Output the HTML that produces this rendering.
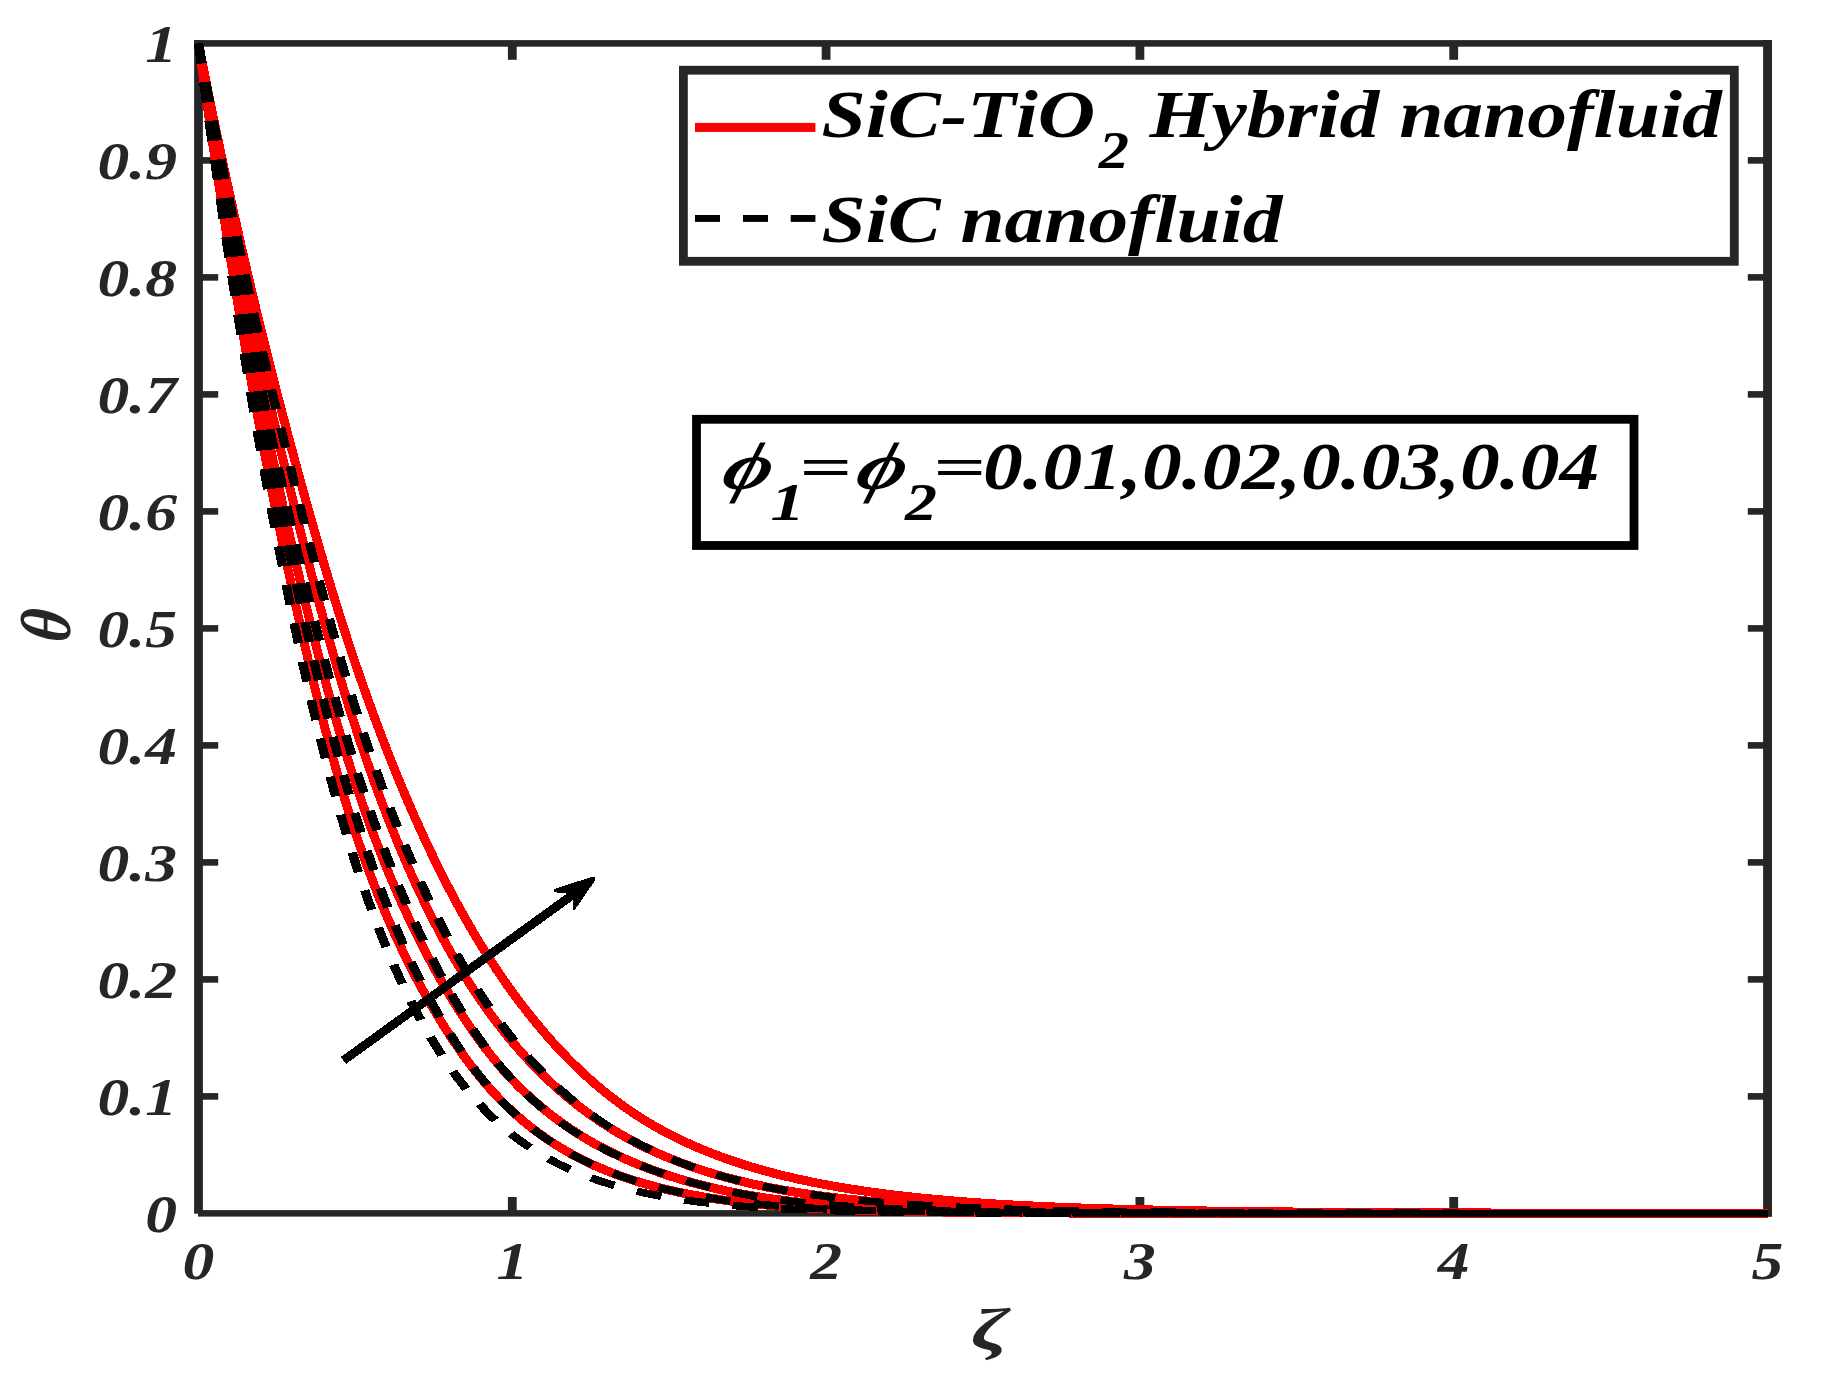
<!DOCTYPE html><html><head><meta charset="utf-8"><title>theta profile</title>
<style>html,body{margin:0;padding:0;background:#fff;overflow:hidden}svg{display:block}text{font-family:"Liberation Serif",serif;font-weight:bold;font-style:italic;font-kerning:none}</style></head><body>
<svg width="1822" height="1377" viewBox="0 0 1822 1377">
<rect width="1822" height="1377" fill="#fff"/>
<g fill="#262626">
<rect x="194.1" y="40.1" width="8.8" height="1173.6"/>
<rect x="194.1" y="40.1" width="1577.9" height="6.6"/>
<rect x="1763.1" y="40.1" width="8.9" height="1176.5"/>
<rect x="198" y="1210.1" width="1574" height="6.5"/>
<rect x="198.5" y="157.10" width="19.7" height="6.6"/>
<rect x="1747.8" y="157.10" width="19.7" height="6.6"/>
<rect x="198.5" y="274.10" width="19.7" height="6.6"/>
<rect x="1747.8" y="274.10" width="19.7" height="6.6"/>
<rect x="198.5" y="391.10" width="19.7" height="6.6"/>
<rect x="1747.8" y="391.10" width="19.7" height="6.6"/>
<rect x="198.5" y="508.10" width="19.7" height="6.6"/>
<rect x="1747.8" y="508.10" width="19.7" height="6.6"/>
<rect x="198.5" y="625.10" width="19.7" height="6.6"/>
<rect x="1747.8" y="625.10" width="19.7" height="6.6"/>
<rect x="198.5" y="742.10" width="19.7" height="6.6"/>
<rect x="1747.8" y="742.10" width="19.7" height="6.6"/>
<rect x="198.5" y="859.10" width="19.7" height="6.6"/>
<rect x="1747.8" y="859.10" width="19.7" height="6.6"/>
<rect x="198.5" y="976.10" width="19.7" height="6.6"/>
<rect x="1747.8" y="976.10" width="19.7" height="6.6"/>
<rect x="198.5" y="1093.10" width="19.7" height="6.6"/>
<rect x="1747.8" y="1093.10" width="19.7" height="6.6"/>
<rect x="507.90" y="1197" width="8.8" height="16.4"/>
<rect x="507.90" y="43.4" width="8.8" height="16.4"/>
<rect x="821.70" y="1197" width="8.8" height="16.4"/>
<rect x="821.70" y="43.4" width="8.8" height="16.4"/>
<rect x="1135.50" y="1197" width="8.8" height="16.4"/>
<rect x="1135.50" y="43.4" width="8.8" height="16.4"/>
<rect x="1449.30" y="1197" width="8.8" height="16.4"/>
<rect x="1449.30" y="43.4" width="8.8" height="16.4"/>
</g>
<text font-size="52.6" fill="#262626" transform="translate(145.18,61.70) scale(1.2100,1)">1</text>
<text font-size="52.6" fill="#262626" transform="translate(97.44,178.70) scale(1.2100,1)">0.9</text>
<text font-size="52.6" fill="#262626" transform="translate(97.44,295.70) scale(1.2100,1)">0.8</text>
<text font-size="52.6" fill="#262626" transform="translate(97.44,412.70) scale(1.2100,1)">0.7</text>
<text font-size="52.6" fill="#262626" transform="translate(97.44,529.70) scale(1.2100,1)">0.6</text>
<text font-size="52.6" fill="#262626" transform="translate(97.44,646.70) scale(1.2100,1)">0.5</text>
<text font-size="52.6" fill="#262626" transform="translate(97.44,763.70) scale(1.2100,1)">0.4</text>
<text font-size="52.6" fill="#262626" transform="translate(97.44,880.70) scale(1.2100,1)">0.3</text>
<text font-size="52.6" fill="#262626" transform="translate(97.44,997.70) scale(1.2100,1)">0.2</text>
<text font-size="52.6" fill="#262626" transform="translate(97.44,1114.70) scale(1.2100,1)">0.1</text>
<text font-size="52.6" fill="#262626" transform="translate(145.18,1231.70) scale(1.2100,1)">0</text>
<text font-size="52.6" fill="#262626" transform="translate(182.59,1279.40) scale(1.2100,1)">0</text>
<text font-size="52.6" fill="#262626" transform="translate(496.39,1279.40) scale(1.2100,1)">1</text>
<text font-size="52.6" fill="#262626" transform="translate(810.19,1279.40) scale(1.2100,1)">2</text>
<text font-size="52.6" fill="#262626" transform="translate(1123.99,1279.40) scale(1.2100,1)">3</text>
<text font-size="52.6" fill="#262626" transform="translate(1437.79,1279.40) scale(1.2100,1)">4</text>
<text font-size="52.6" fill="#262626" transform="translate(1751.59,1279.40) scale(1.2100,1)">5</text>
<text font-size="59" fill="#262626" text-anchor="middle" transform="translate(70.2,627.8) scale(1.2,1) rotate(-90) skewX(-7) scale(1.05,1)">θ</text>
<text font-size="59" fill="#262626" transform="translate(971.09,1349.00) scale(1.4400,1)">ζ</text>
<g fill="none" stroke="#ff0000" stroke-width="9" shape-rendering="crispEdges">
<path d="M198.50 43.40 L200.07 54.76 L201.64 66.04 L203.21 77.22 L204.78 88.32 L206.34 99.34 L207.91 110.26 L209.48 121.11 L211.05 131.87 L212.62 142.54 L214.19 153.14 L215.76 163.65 L217.33 174.08 L218.90 184.44 L220.47 194.71 L222.03 204.90 L223.60 215.02 L225.17 225.05 L226.74 235.02 L228.31 244.90 L229.88 254.71 L231.45 264.44 L233.02 274.10 L234.59 283.68 L236.16 293.19 L237.72 302.63 L239.29 312.00 L240.86 321.29 L242.43 330.51 L244.00 339.66 L245.57 348.74 L247.14 357.75 L248.71 366.69 L250.28 375.55 L251.85 384.35 L253.42 393.09 L254.98 401.75 L256.55 410.34 L258.12 418.87 L259.69 427.33 L261.26 435.73 L262.83 444.05 L264.40 452.31 L265.97 460.51 L267.54 468.64 L269.11 476.71 L270.67 484.71 L272.24 492.64 L273.81 500.52 L275.38 508.32 L276.95 516.07 L278.52 523.76 L280.09 531.40 L281.66 539.00 L283.23 546.54 L284.80 554.04 L286.36 561.49 L287.93 568.88 L289.50 576.23 L291.07 583.53 L292.64 590.78 L294.21 597.98 L295.78 605.13 L297.35 612.23 L298.92 619.27 L300.49 626.26 L302.05 633.20 L303.62 640.08 L305.19 646.91 L306.76 653.68 L308.33 660.39 L309.90 667.05 L311.47 673.66 L313.04 680.20 L314.61 686.68 L316.18 693.11 L317.74 699.48 L319.31 705.78 L320.88 712.02 L322.45 718.20 L324.02 724.32 L325.59 730.38 L327.16 736.37 L328.73 742.29 L330.30 748.15 L331.87 753.95 L333.43 759.68 L335.00 765.34 L336.57 770.93 L338.14 776.46 L339.71 781.91 L341.28 787.30 L342.85 792.62 L344.42 797.87 L345.99 803.04 L347.56 808.15 L349.12 813.18 L350.69 818.15 L352.26 823.04 L353.83 827.86 L355.40 832.61 L356.97 837.29 L358.54 841.91 L360.11 846.47 L361.68 850.97 L363.25 855.42 L364.81 859.81 L366.38 864.15 L367.95 868.43 L369.52 872.66 L371.09 876.84 L372.66 880.96 L374.23 885.04 L375.80 889.06 L377.37 893.04 L378.94 896.96 L380.50 900.84 L382.07 904.67 L383.64 908.46 L385.21 912.20 L386.78 915.89 L388.35 919.54 L389.92 923.15 L391.49 926.72 L393.06 930.24 L394.62 933.73 L396.19 937.17 L397.76 940.57 L399.33 943.94 L400.90 947.27 L402.47 950.56 L404.04 953.82 L405.61 957.03 L407.18 960.22 L408.75 963.37 L410.32 966.48 L411.88 969.57 L413.45 972.62 L415.02 975.63 L416.59 978.62 L418.16 981.58 L419.73 984.50 L421.30 987.40 L422.87 990.27 L424.44 993.11 L426.00 995.92 L427.57 998.70 L429.14 1001.46 L430.71 1004.19 L432.28 1006.90 L433.85 1009.58 L435.42 1012.23 L436.99 1014.86 L438.56 1017.46 L440.13 1020.04 L441.70 1022.59 L443.26 1025.11 L444.83 1027.61 L446.40 1030.09 L447.97 1032.53 L449.54 1034.96 L451.11 1037.35 L452.68 1039.72 L454.25 1042.07 L455.82 1044.38 L457.39 1046.68 L458.95 1048.94 L460.52 1051.19 L462.09 1053.40 L463.66 1055.59 L465.23 1057.76 L466.80 1059.90 L468.37 1062.02 L469.94 1064.11 L471.51 1066.17 L473.07 1068.21 L474.64 1070.23 L476.21 1072.22 L477.78 1074.18 L479.35 1076.12 L480.92 1078.04 L482.49 1079.93 L484.06 1081.80 L485.63 1083.65 L487.20 1085.47 L488.77 1087.26 L490.33 1089.03 L491.90 1090.78 L493.47 1092.51 L495.04 1094.21 L496.61 1095.89 L498.18 1097.54 L499.75 1099.18 L501.32 1100.78 L502.89 1102.37 L504.45 1103.94 L506.02 1105.48 L507.59 1107.00 L509.16 1108.49 L510.73 1109.97 L512.30 1111.42 L513.87 1112.85 L515.44 1114.27 L517.01 1115.66 L518.58 1117.04 L520.14 1118.40 L521.71 1119.74 L523.28 1121.06 L524.85 1122.36 L526.42 1123.65 L527.99 1124.92 L529.56 1126.17 L531.13 1127.40 L532.70 1128.62 L534.27 1129.82 L535.84 1131.01 L537.40 1132.18 L538.97 1133.33 L540.54 1134.47 L542.11 1135.59 L543.68 1136.70 L545.25 1137.79 L546.82 1138.87 L548.39 1139.93 L549.96 1140.98 L551.53 1142.02 L553.09 1143.04 L554.66 1144.04 L556.23 1145.04 L557.80 1146.02 L559.37 1146.98 L560.94 1147.94 L562.51 1148.88 L564.08 1149.80 L565.65 1150.72 L567.22 1151.62 L568.78 1152.51 L570.35 1153.39 L571.92 1154.25 L573.49 1155.11 L575.06 1155.95 L576.63 1156.78 L578.20 1157.60 L579.77 1158.41 L581.34 1159.21 L582.90 1159.99 L584.47 1160.77 L586.04 1161.53 L587.61 1162.29 L589.18 1163.03 L590.75 1163.77 L592.32 1164.49 L593.89 1165.20 L595.46 1165.91 L597.03 1166.60 L598.60 1167.29 L600.16 1167.96 L601.73 1168.63 L603.30 1169.29 L604.87 1169.94 L606.44 1170.58 L608.01 1171.21 L609.58 1171.83 L611.15 1172.44 L612.72 1173.05 L614.29 1173.64 L615.85 1174.23 L617.42 1174.81 L618.99 1175.39 L620.56 1175.95 L622.13 1176.51 L623.70 1177.06 L625.27 1177.60 L626.84 1178.13 L628.41 1178.66 L629.98 1179.18 L631.54 1179.69 L633.11 1180.20 L634.68 1180.69 L636.25 1181.19 L637.82 1181.67 L639.39 1182.15 L640.96 1182.62 L642.53 1183.08 L644.10 1183.54 L645.66 1183.99 L647.23 1184.44 L648.80 1184.88 L650.37 1185.31 L651.94 1185.74 L653.51 1186.16 L655.08 1186.58 L656.65 1186.99 L658.22 1187.39 L659.79 1187.79 L661.36 1188.18 L662.92 1188.57 L664.49 1188.95 L666.06 1189.33 L667.63 1189.70 L669.20 1190.07 L670.77 1190.43 L672.34 1190.79 L673.91 1191.14 L675.48 1191.49 L677.05 1191.83 L678.61 1192.17 L680.18 1192.50 L681.75 1192.83 L683.32 1193.16 L684.89 1193.48 L686.46 1193.79 L688.03 1194.11 L689.60 1194.41 L691.17 1194.72 L692.74 1195.01 L694.30 1195.31 L695.87 1195.60 L697.44 1195.89 L699.01 1196.17 L700.58 1196.45 L702.15 1196.72 L703.72 1196.99 L705.29 1197.26 L706.86 1197.52 L708.42 1197.78 L709.99 1198.03 L711.56 1198.28 L713.13 1198.53 L714.70 1198.78 L716.27 1199.02 L717.84 1199.25 L719.41 1199.48 L720.98 1199.71 L722.55 1199.94 L724.12 1200.16 L725.68 1200.38 L727.25 1200.60 L728.82 1200.81 L730.39 1201.02 L731.96 1201.22 L733.53 1201.42 L735.10 1201.62 L736.67 1201.82 L738.24 1202.01 L739.81 1202.20 L741.37 1202.39 L742.94 1202.57 L744.51 1202.75 L746.08 1202.93 L747.65 1203.10 L749.22 1203.28 L750.79 1203.44 L752.36 1203.61 L753.93 1203.77 L755.50 1203.93 L757.06 1204.09 L758.63 1204.25 L760.20 1204.40 L761.77 1204.55 L763.34 1204.70 L764.91 1204.84 L766.48 1204.99 L768.05 1205.13 L769.62 1205.27 L771.19 1205.40 L772.75 1205.53 L774.32 1205.67 L775.89 1205.79 L777.46 1205.92 L779.03 1206.05 L780.60 1206.17 L782.17 1206.29 L783.74 1206.41 L785.31 1206.52 L786.88 1206.63 L788.44 1206.75 L790.01 1206.86 L791.58 1206.96 L793.15 1207.07 L794.72 1207.17 L796.29 1207.28 L797.86 1207.38 L799.43 1207.47 L801.00 1207.57 L802.57 1207.67 L804.13 1207.76 L805.70 1207.85 L807.27 1207.94 L808.84 1208.03 L810.41 1208.12 L811.98 1208.20 L813.55 1208.28 L815.12 1208.37 L816.69 1208.45 L818.25 1208.52 L819.82 1208.60 L821.39 1208.68 L822.96 1208.75 L824.53 1208.83 L826.10 1208.90 L827.67 1208.97 L829.24 1209.04 L830.81 1209.11 L832.38 1209.17 L833.95 1209.24 L835.51 1209.30 L837.08 1209.37 L838.65 1209.43 L840.22 1209.49 L841.79 1209.55 L843.36 1209.61 L844.93 1209.67 L846.50 1209.73 L848.07 1209.79 L849.64 1209.85 L851.20 1209.90 L852.77 1209.96 L854.34 1210.01 L855.91 1210.06 L857.48 1210.12 L859.05 1210.17 L860.62 1210.22 L862.19 1210.27 L863.76 1210.32 L865.33 1210.36 L866.89 1210.41 L868.46 1210.46 L870.03 1210.50 L871.60 1210.55 L873.17 1210.59 L874.74 1210.64 L876.31 1210.68 L877.88 1210.72 L879.45 1210.77 L881.02 1210.81 L882.58 1210.85 L884.15 1210.89 L885.72 1210.93 L887.29 1210.97 L888.86 1211.00 L890.43 1211.04 L892.00 1211.08 L893.57 1211.11 L895.14 1211.15 L896.71 1211.19 L898.27 1211.22 L899.84 1211.25 L901.41 1211.29 L902.98 1211.32 L904.55 1211.35 L906.12 1211.39 L907.69 1211.42 L909.26 1211.45 L910.83 1211.48 L912.39 1211.51 L913.96 1211.54 L915.53 1211.57 L917.10 1211.60 L918.67 1211.62 L920.24 1211.65 L921.81 1211.68 L923.38 1211.71 L924.95 1211.73 L926.52 1211.76 L928.09 1211.78 L929.65 1211.81 L931.22 1211.83 L932.79 1211.86 L934.36 1211.88 L935.93 1211.91 L937.50 1211.93 L939.07 1211.95 L940.64 1211.98 L942.21 1212.00 L943.77 1212.02 L945.34 1212.04 L946.91 1212.06 L948.48 1212.08 L950.05 1212.10 L951.62 1212.12 L953.19 1212.14 L954.76 1212.16 L956.33 1212.18 L957.90 1212.20 L959.47 1212.22 L961.03 1212.24 L962.60 1212.26 L964.17 1212.27 L965.74 1212.29 L967.31 1212.31 L968.88 1212.33 L970.45 1212.34 L972.02 1212.36 L973.59 1212.38 L975.16 1212.39 L976.72 1212.41 L978.29 1212.42 L979.86 1212.44 L981.43 1212.45 L983.00 1212.47 L989.59 1212.53 L996.18 1212.58 L1002.78 1212.64 L1009.37 1212.68 L1015.96 1212.73 L1022.55 1212.77 L1029.15 1212.81 L1035.74 1212.85 L1042.33 1212.88 L1048.92 1212.92 L1055.52 1212.95 L1062.11 1212.98 L1068.70 1213.00 L1075.29 1213.03 L1081.89 1213.05 L1088.48 1213.07 L1095.07 1213.10 L1101.66 1213.11 L1108.26 1213.13 L1114.85 1213.15 L1121.44 1213.17 L1128.03 1213.18 L1134.63 1213.19 L1141.22 1213.21 L1147.81 1213.22 L1154.40 1213.23 L1161.00 1213.24 L1167.59 1213.25 L1174.18 1213.26 L1180.77 1213.27 L1187.37 1213.28 L1193.96 1213.29 L1200.55 1213.29 L1207.14 1213.30 L1213.74 1213.31 L1220.33 1213.31 L1226.92 1213.32 L1233.51 1213.32 L1240.11 1213.33 L1246.70 1213.33 L1253.29 1213.34 L1259.88 1213.34 L1266.47 1213.35 L1273.07 1213.35 L1279.66 1213.35 L1286.25 1213.36 L1292.84 1213.36 L1299.44 1213.36 L1306.03 1213.36 L1312.62 1213.37 L1319.21 1213.37 L1325.81 1213.37 L1332.40 1213.37 L1338.99 1213.37 L1345.58 1213.38 L1352.18 1213.38 L1358.77 1213.38 L1365.36 1213.38 L1371.95 1213.38 L1378.55 1213.38 L1385.14 1213.38 L1391.73 1213.38 L1398.32 1213.39 L1404.92 1213.39 L1411.51 1213.39 L1418.10 1213.39 L1424.69 1213.39 L1431.29 1213.39 L1437.88 1213.39 L1444.47 1213.39 L1451.06 1213.39 L1457.66 1213.39 L1464.25 1213.39 L1470.84 1213.39 L1477.43 1213.39 L1484.03 1213.39 L1490.62 1213.39 L1497.21 1213.39 L1503.80 1213.40 L1510.39 1213.40 L1516.99 1213.40 L1523.58 1213.40 L1530.17 1213.40 L1536.76 1213.40 L1543.36 1213.40 L1549.95 1213.40 L1556.54 1213.40 L1563.13 1213.40 L1569.73 1213.40 L1576.32 1213.40 L1582.91 1213.40 L1589.50 1213.40 L1596.10 1213.40 L1602.69 1213.40 L1609.28 1213.40 L1615.87 1213.40 L1622.47 1213.40 L1629.06 1213.40 L1635.65 1213.40 L1642.24 1213.40 L1648.84 1213.40 L1655.43 1213.40 L1662.02 1213.40 L1668.61 1213.40 L1675.21 1213.40 L1681.80 1213.40 L1688.39 1213.40 L1694.98 1213.40 L1701.58 1213.40 L1708.17 1213.40 L1714.76 1213.40 L1721.35 1213.40 L1727.95 1213.40 L1734.54 1213.40 L1741.13 1213.40 L1747.72 1213.40 L1754.32 1213.40 L1760.91 1213.40 L1767.50 1213.40"/>
<path d="M198.50 43.40 L200.07 53.77 L201.64 64.07 L203.21 74.28 L204.78 84.42 L206.34 94.47 L207.91 104.46 L209.48 114.36 L211.05 124.20 L212.62 133.96 L214.19 143.64 L215.76 153.26 L217.33 162.80 L218.90 172.28 L220.47 181.68 L222.03 191.02 L223.60 200.28 L225.17 209.48 L226.74 218.61 L228.31 227.68 L229.88 236.68 L231.45 245.61 L233.02 254.48 L234.59 263.29 L236.16 272.03 L237.72 280.71 L239.29 289.33 L240.86 297.89 L242.43 306.38 L244.00 314.81 L245.57 323.19 L247.14 331.50 L248.71 339.75 L250.28 347.94 L251.85 356.08 L253.42 364.15 L254.98 372.17 L256.55 380.13 L258.12 388.03 L259.69 395.88 L261.26 403.66 L262.83 411.39 L264.40 419.07 L265.97 426.69 L267.54 434.25 L269.11 441.76 L270.67 449.21 L272.24 456.61 L273.81 463.96 L275.38 471.25 L276.95 478.48 L278.52 485.67 L280.09 492.82 L281.66 499.93 L283.23 507.01 L284.80 514.04 L286.36 521.04 L287.93 527.99 L289.50 534.91 L291.07 541.78 L292.64 548.62 L294.21 555.41 L295.78 562.17 L297.35 568.88 L298.92 575.55 L300.49 582.18 L302.05 588.77 L303.62 595.31 L305.19 601.81 L306.76 608.27 L308.33 614.68 L309.90 621.04 L311.47 627.36 L313.04 633.63 L314.61 639.86 L316.18 646.03 L317.74 652.16 L319.31 658.24 L320.88 664.27 L322.45 670.24 L324.02 676.17 L325.59 682.04 L327.16 687.87 L328.73 693.64 L330.30 699.35 L331.87 705.01 L333.43 710.62 L335.00 716.17 L336.57 721.66 L338.14 727.10 L339.71 732.48 L341.28 737.80 L342.85 743.06 L344.42 748.26 L345.99 753.41 L347.56 758.49 L349.12 763.51 L350.69 768.47 L352.26 773.37 L353.83 778.21 L355.40 782.98 L356.97 787.70 L358.54 792.36 L360.11 796.98 L361.68 801.54 L363.25 806.06 L364.81 810.52 L366.38 814.94 L367.95 819.31 L369.52 823.64 L371.09 827.91 L372.66 832.14 L374.23 836.33 L375.80 840.47 L377.37 844.57 L378.94 848.62 L380.50 852.63 L382.07 856.60 L383.64 860.53 L385.21 864.42 L386.78 868.26 L388.35 872.07 L389.92 875.83 L391.49 879.56 L393.06 883.25 L394.62 886.90 L396.19 890.52 L397.76 894.10 L399.33 897.64 L400.90 901.15 L402.47 904.62 L404.04 908.06 L405.61 911.46 L407.18 914.83 L408.75 918.17 L410.32 921.47 L411.88 924.75 L413.45 927.99 L415.02 931.21 L416.59 934.39 L418.16 937.54 L419.73 940.66 L421.30 943.76 L422.87 946.83 L424.44 949.86 L426.00 952.88 L427.57 955.86 L429.14 958.82 L430.71 961.75 L432.28 964.66 L433.85 967.54 L435.42 970.40 L436.99 973.23 L438.56 976.03 L440.13 978.82 L441.70 981.57 L443.26 984.30 L444.83 987.00 L446.40 989.68 L447.97 992.34 L449.54 994.97 L451.11 997.57 L452.68 1000.15 L454.25 1002.70 L455.82 1005.23 L457.39 1007.73 L458.95 1010.21 L460.52 1012.66 L462.09 1015.08 L463.66 1017.49 L465.23 1019.86 L466.80 1022.21 L468.37 1024.54 L469.94 1026.84 L471.51 1029.12 L473.07 1031.37 L474.64 1033.60 L476.21 1035.80 L477.78 1037.98 L479.35 1040.13 L480.92 1042.26 L482.49 1044.36 L484.06 1046.44 L485.63 1048.50 L487.20 1050.53 L488.77 1052.53 L490.33 1054.52 L491.90 1056.48 L493.47 1058.41 L495.04 1060.32 L496.61 1062.21 L498.18 1064.08 L499.75 1065.92 L501.32 1067.73 L502.89 1069.53 L504.45 1071.30 L506.02 1073.05 L507.59 1074.77 L509.16 1076.47 L510.73 1078.15 L512.30 1079.81 L513.87 1081.45 L515.44 1083.06 L517.01 1084.66 L518.58 1086.24 L520.14 1087.80 L521.71 1089.33 L523.28 1090.85 L524.85 1092.36 L526.42 1093.84 L527.99 1095.30 L529.56 1096.75 L531.13 1098.18 L532.70 1099.59 L534.27 1100.99 L535.84 1102.37 L537.40 1103.73 L538.97 1105.07 L540.54 1106.40 L542.11 1107.71 L543.68 1109.01 L545.25 1110.29 L546.82 1111.56 L548.39 1112.81 L549.96 1114.04 L551.53 1115.26 L553.09 1116.47 L554.66 1117.66 L556.23 1118.84 L557.80 1120.00 L559.37 1121.15 L560.94 1122.29 L562.51 1123.41 L564.08 1124.52 L565.65 1125.61 L567.22 1126.69 L568.78 1127.76 L570.35 1128.82 L571.92 1129.86 L573.49 1130.90 L575.06 1131.91 L576.63 1132.92 L578.20 1133.92 L579.77 1134.90 L581.34 1135.87 L582.90 1136.83 L584.47 1137.78 L586.04 1138.72 L587.61 1139.65 L589.18 1140.57 L590.75 1141.47 L592.32 1142.37 L593.89 1143.25 L595.46 1144.13 L597.03 1144.99 L598.60 1145.84 L600.16 1146.69 L601.73 1147.52 L603.30 1148.35 L604.87 1149.16 L606.44 1149.97 L608.01 1150.76 L609.58 1151.55 L611.15 1152.33 L612.72 1153.10 L614.29 1153.86 L615.85 1154.61 L617.42 1155.36 L618.99 1156.09 L620.56 1156.82 L622.13 1157.53 L623.70 1158.24 L625.27 1158.95 L626.84 1159.64 L628.41 1160.33 L629.98 1161.00 L631.54 1161.68 L633.11 1162.34 L634.68 1162.99 L636.25 1163.64 L637.82 1164.28 L639.39 1164.92 L640.96 1165.54 L642.53 1166.16 L644.10 1166.77 L645.66 1167.38 L647.23 1167.98 L648.80 1168.57 L650.37 1169.16 L651.94 1169.74 L653.51 1170.31 L655.08 1170.88 L656.65 1171.44 L658.22 1171.99 L659.79 1172.54 L661.36 1173.08 L662.92 1173.61 L664.49 1174.14 L666.06 1174.67 L667.63 1175.18 L669.20 1175.70 L670.77 1176.20 L672.34 1176.70 L673.91 1177.20 L675.48 1177.69 L677.05 1178.18 L678.61 1178.66 L680.18 1179.13 L681.75 1179.60 L683.32 1180.07 L684.89 1180.53 L686.46 1180.98 L688.03 1181.43 L689.60 1181.88 L691.17 1182.32 L692.74 1182.75 L694.30 1183.18 L695.87 1183.61 L697.44 1184.03 L699.01 1184.44 L700.58 1184.85 L702.15 1185.26 L703.72 1185.66 L705.29 1186.06 L706.86 1186.45 L708.42 1186.83 L709.99 1187.22 L711.56 1187.59 L713.13 1187.96 L714.70 1188.33 L716.27 1188.69 L717.84 1189.05 L719.41 1189.41 L720.98 1189.76 L722.55 1190.10 L724.12 1190.44 L725.68 1190.78 L727.25 1191.11 L728.82 1191.44 L730.39 1191.76 L731.96 1192.08 L733.53 1192.39 L735.10 1192.70 L736.67 1193.01 L738.24 1193.31 L739.81 1193.61 L741.37 1193.90 L742.94 1194.19 L744.51 1194.47 L746.08 1194.76 L747.65 1195.03 L749.22 1195.31 L750.79 1195.58 L752.36 1195.84 L753.93 1196.10 L755.50 1196.36 L757.06 1196.62 L758.63 1196.87 L760.20 1197.12 L761.77 1197.36 L763.34 1197.60 L764.91 1197.84 L766.48 1198.07 L768.05 1198.30 L769.62 1198.53 L771.19 1198.75 L772.75 1198.97 L774.32 1199.18 L775.89 1199.40 L777.46 1199.61 L779.03 1199.81 L780.60 1200.02 L782.17 1200.22 L783.74 1200.41 L785.31 1200.61 L786.88 1200.80 L788.44 1200.99 L790.01 1201.17 L791.58 1201.35 L793.15 1201.53 L794.72 1201.71 L796.29 1201.88 L797.86 1202.05 L799.43 1202.22 L801.00 1202.39 L802.57 1202.55 L804.13 1202.71 L805.70 1202.87 L807.27 1203.02 L808.84 1203.17 L810.41 1203.32 L811.98 1203.47 L813.55 1203.61 L815.12 1203.76 L816.69 1203.90 L818.25 1204.03 L819.82 1204.17 L821.39 1204.30 L822.96 1204.43 L824.53 1204.56 L826.10 1204.69 L827.67 1204.81 L829.24 1204.93 L830.81 1205.06 L832.38 1205.17 L833.95 1205.29 L835.51 1205.41 L837.08 1205.52 L838.65 1205.64 L840.22 1205.75 L841.79 1205.86 L843.36 1205.96 L844.93 1206.07 L846.50 1206.18 L848.07 1206.28 L849.64 1206.38 L851.20 1206.48 L852.77 1206.58 L854.34 1206.68 L855.91 1206.78 L857.48 1206.87 L859.05 1206.96 L860.62 1207.06 L862.19 1207.15 L863.76 1207.24 L865.33 1207.33 L866.89 1207.41 L868.46 1207.50 L870.03 1207.59 L871.60 1207.67 L873.17 1207.75 L874.74 1207.83 L876.31 1207.91 L877.88 1207.99 L879.45 1208.07 L881.02 1208.15 L882.58 1208.22 L884.15 1208.30 L885.72 1208.37 L887.29 1208.44 L888.86 1208.52 L890.43 1208.59 L892.00 1208.66 L893.57 1208.72 L895.14 1208.79 L896.71 1208.86 L898.27 1208.92 L899.84 1208.99 L901.41 1209.05 L902.98 1209.11 L904.55 1209.18 L906.12 1209.24 L907.69 1209.30 L909.26 1209.36 L910.83 1209.42 L912.39 1209.47 L913.96 1209.53 L915.53 1209.59 L917.10 1209.64 L918.67 1209.70 L920.24 1209.75 L921.81 1209.80 L923.38 1209.85 L924.95 1209.91 L926.52 1209.96 L928.09 1210.01 L929.65 1210.06 L931.22 1210.10 L932.79 1210.15 L934.36 1210.20 L935.93 1210.25 L937.50 1210.29 L939.07 1210.34 L940.64 1210.38 L942.21 1210.42 L943.77 1210.47 L945.34 1210.51 L946.91 1210.55 L948.48 1210.59 L950.05 1210.63 L951.62 1210.67 L953.19 1210.71 L954.76 1210.75 L956.33 1210.79 L957.90 1210.83 L959.47 1210.87 L961.03 1210.90 L962.60 1210.94 L964.17 1210.97 L965.74 1211.01 L967.31 1211.04 L968.88 1211.08 L970.45 1211.11 L972.02 1211.15 L973.59 1211.18 L975.16 1211.21 L976.72 1211.24 L978.29 1211.27 L979.86 1211.30 L981.43 1211.33 L983.00 1211.36 L989.59 1211.49 L996.18 1211.60 L1002.78 1211.71 L1009.37 1211.81 L1015.96 1211.90 L1022.55 1211.99 L1029.15 1212.07 L1035.74 1212.15 L1042.33 1212.23 L1048.92 1212.30 L1055.52 1212.36 L1062.11 1212.42 L1068.70 1212.48 L1075.29 1212.54 L1081.89 1212.59 L1088.48 1212.63 L1095.07 1212.68 L1101.66 1212.72 L1108.26 1212.76 L1114.85 1212.80 L1121.44 1212.83 L1128.03 1212.87 L1134.63 1212.90 L1141.22 1212.93 L1147.81 1212.95 L1154.40 1212.98 L1161.00 1213.00 L1167.59 1213.03 L1174.18 1213.05 L1180.77 1213.07 L1187.37 1213.09 L1193.96 1213.11 L1200.55 1213.12 L1207.14 1213.14 L1213.74 1213.15 L1220.33 1213.17 L1226.92 1213.18 L1233.51 1213.20 L1240.11 1213.21 L1246.70 1213.22 L1253.29 1213.23 L1259.88 1213.24 L1266.47 1213.25 L1273.07 1213.26 L1279.66 1213.27 L1286.25 1213.27 L1292.84 1213.28 L1299.44 1213.29 L1306.03 1213.29 L1312.62 1213.30 L1319.21 1213.31 L1325.81 1213.31 L1332.40 1213.32 L1338.99 1213.32 L1345.58 1213.33 L1352.18 1213.33 L1358.77 1213.34 L1365.36 1213.34 L1371.95 1213.34 L1378.55 1213.35 L1385.14 1213.35 L1391.73 1213.35 L1398.32 1213.36 L1404.92 1213.36 L1411.51 1213.36 L1418.10 1213.36 L1424.69 1213.36 L1431.29 1213.37 L1437.88 1213.37 L1444.47 1213.37 L1451.06 1213.37 L1457.66 1213.37 L1464.25 1213.38 L1470.84 1213.38 L1477.43 1213.38 L1484.03 1213.38 L1490.62 1213.38 L1497.21 1213.38 L1503.80 1213.38 L1510.39 1213.38 L1516.99 1213.38 L1523.58 1213.39 L1530.17 1213.39 L1536.76 1213.39 L1543.36 1213.39 L1549.95 1213.39 L1556.54 1213.39 L1563.13 1213.39 L1569.73 1213.39 L1576.32 1213.39 L1582.91 1213.39 L1589.50 1213.39 L1596.10 1213.39 L1602.69 1213.39 L1609.28 1213.39 L1615.87 1213.39 L1622.47 1213.39 L1629.06 1213.39 L1635.65 1213.39 L1642.24 1213.40 L1648.84 1213.40 L1655.43 1213.40 L1662.02 1213.40 L1668.61 1213.40 L1675.21 1213.40 L1681.80 1213.40 L1688.39 1213.40 L1694.98 1213.40 L1701.58 1213.40 L1708.17 1213.40 L1714.76 1213.40 L1721.35 1213.40 L1727.95 1213.40 L1734.54 1213.40 L1741.13 1213.40 L1747.72 1213.40 L1754.32 1213.40 L1760.91 1213.40 L1767.50 1213.40"/>
<path d="M198.50 43.40 L200.07 52.49 L201.64 61.53 L203.21 70.50 L204.78 79.41 L206.34 88.25 L207.91 97.05 L209.48 105.78 L211.05 114.45 L212.62 123.07 L214.19 131.63 L215.76 140.14 L217.33 148.59 L218.90 156.99 L220.47 165.34 L222.03 173.63 L223.60 181.87 L225.17 190.06 L226.74 198.19 L228.31 206.28 L229.88 214.32 L231.45 222.31 L233.02 230.25 L234.59 238.14 L236.16 245.98 L237.72 253.77 L239.29 261.52 L240.86 269.22 L242.43 276.88 L244.00 284.48 L245.57 292.05 L247.14 299.56 L248.71 307.03 L250.28 314.46 L251.85 321.84 L253.42 329.17 L254.98 336.47 L256.55 343.71 L258.12 350.92 L259.69 358.08 L261.26 365.20 L262.83 372.27 L264.40 379.30 L265.97 386.29 L267.54 393.23 L269.11 400.13 L270.67 406.99 L272.24 413.81 L273.81 420.59 L275.38 427.32 L276.95 434.01 L278.52 440.67 L280.09 447.30 L281.66 453.90 L283.23 460.48 L284.80 467.03 L286.36 473.55 L287.93 480.05 L289.50 486.51 L291.07 492.95 L292.64 499.37 L294.21 505.75 L295.78 512.11 L297.35 518.43 L298.92 524.73 L300.49 531.00 L302.05 537.24 L303.62 543.45 L305.19 549.62 L306.76 555.76 L308.33 561.88 L309.90 567.95 L311.47 574.00 L313.04 580.01 L314.61 585.99 L316.18 591.93 L317.74 597.83 L319.31 603.70 L320.88 609.53 L322.45 615.32 L324.02 621.07 L325.59 626.79 L327.16 632.46 L328.73 638.09 L330.30 643.68 L331.87 649.23 L333.43 654.73 L335.00 660.20 L336.57 665.61 L338.14 670.98 L339.71 676.31 L341.28 681.59 L342.85 686.82 L344.42 692.00 L345.99 697.14 L347.56 702.22 L349.12 707.26 L350.69 712.24 L352.26 717.18 L353.83 722.06 L355.40 726.89 L356.97 731.67 L358.54 736.42 L360.11 741.12 L361.68 745.79 L363.25 750.41 L364.81 755.00 L366.38 759.55 L367.95 764.06 L369.52 768.53 L371.09 772.96 L372.66 777.36 L374.23 781.72 L375.80 786.04 L377.37 790.32 L378.94 794.57 L380.50 798.77 L382.07 802.95 L383.64 807.08 L385.21 811.18 L386.78 815.24 L388.35 819.27 L389.92 823.26 L391.49 827.21 L393.06 831.13 L394.62 835.01 L396.19 838.86 L397.76 842.68 L399.33 846.45 L400.90 850.20 L402.47 853.91 L404.04 857.59 L405.61 861.23 L407.18 864.84 L408.75 868.41 L410.32 871.95 L411.88 875.46 L413.45 878.94 L415.02 882.38 L416.59 885.80 L418.16 889.17 L419.73 892.52 L421.30 895.84 L422.87 899.12 L424.44 902.38 L426.00 905.60 L427.57 908.79 L429.14 911.95 L430.71 915.08 L432.28 918.18 L433.85 921.25 L435.42 924.29 L436.99 927.30 L438.56 930.29 L440.13 933.24 L441.70 936.16 L443.26 939.06 L444.83 941.92 L446.40 944.76 L447.97 947.57 L449.54 950.36 L451.11 953.11 L452.68 955.84 L454.25 958.55 L455.82 961.22 L457.39 963.87 L458.95 966.49 L460.52 969.09 L462.09 971.66 L463.66 974.21 L465.23 976.73 L466.80 979.23 L468.37 981.70 L469.94 984.15 L471.51 986.57 L473.07 988.97 L474.64 991.35 L476.21 993.70 L477.78 996.03 L479.35 998.34 L480.92 1000.62 L482.49 1002.88 L484.06 1005.12 L485.63 1007.34 L487.20 1009.54 L488.77 1011.71 L490.33 1013.86 L491.90 1015.99 L493.47 1018.11 L495.04 1020.19 L496.61 1022.26 L498.18 1024.31 L499.75 1026.34 L501.32 1028.35 L502.89 1030.34 L504.45 1032.31 L506.02 1034.26 L507.59 1036.19 L509.16 1038.10 L510.73 1039.99 L512.30 1041.87 L513.87 1043.73 L515.44 1045.56 L517.01 1047.38 L518.58 1049.19 L520.14 1050.97 L521.71 1052.74 L523.28 1054.49 L524.85 1056.22 L526.42 1057.93 L527.99 1059.63 L529.56 1061.31 L531.13 1062.98 L532.70 1064.62 L534.27 1066.26 L535.84 1067.87 L537.40 1069.47 L538.97 1071.05 L540.54 1072.62 L542.11 1074.17 L543.68 1075.70 L545.25 1077.22 L546.82 1078.72 L548.39 1080.21 L549.96 1081.69 L551.53 1083.14 L553.09 1084.59 L554.66 1086.02 L556.23 1087.43 L557.80 1088.83 L559.37 1090.21 L560.94 1091.59 L562.51 1092.94 L564.08 1094.28 L565.65 1095.61 L567.22 1096.93 L568.78 1098.23 L570.35 1099.52 L571.92 1100.79 L573.49 1102.05 L575.06 1103.30 L576.63 1104.54 L578.20 1105.76 L579.77 1106.97 L581.34 1108.16 L582.90 1109.35 L584.47 1110.52 L586.04 1111.68 L587.61 1112.82 L589.18 1113.96 L590.75 1115.08 L592.32 1116.19 L593.89 1117.29 L595.46 1118.38 L597.03 1119.45 L598.60 1120.52 L600.16 1121.57 L601.73 1122.61 L603.30 1123.64 L604.87 1124.66 L606.44 1125.67 L608.01 1126.67 L609.58 1127.66 L611.15 1128.63 L612.72 1129.60 L614.29 1130.55 L615.85 1131.50 L617.42 1132.43 L618.99 1133.36 L620.56 1134.27 L622.13 1135.18 L623.70 1136.07 L625.27 1136.95 L626.84 1137.83 L628.41 1138.70 L629.98 1139.55 L631.54 1140.40 L633.11 1141.24 L634.68 1142.06 L636.25 1142.88 L637.82 1143.69 L639.39 1144.49 L640.96 1145.29 L642.53 1146.07 L644.10 1146.84 L645.66 1147.61 L647.23 1148.37 L648.80 1149.12 L650.37 1149.86 L651.94 1150.59 L653.51 1151.32 L655.08 1152.03 L656.65 1152.74 L658.22 1153.44 L659.79 1154.13 L661.36 1154.82 L662.92 1155.50 L664.49 1156.16 L666.06 1156.83 L667.63 1157.48 L669.20 1158.13 L670.77 1158.77 L672.34 1159.40 L673.91 1160.03 L675.48 1160.65 L677.05 1161.26 L678.61 1161.87 L680.18 1162.47 L681.75 1163.06 L683.32 1163.65 L684.89 1164.23 L686.46 1164.80 L688.03 1165.37 L689.60 1165.93 L691.17 1166.49 L692.74 1167.04 L694.30 1167.58 L695.87 1168.12 L697.44 1168.65 L699.01 1169.17 L700.58 1169.69 L702.15 1170.21 L703.72 1170.72 L705.29 1171.22 L706.86 1171.72 L708.42 1172.21 L709.99 1172.69 L711.56 1173.17 L713.13 1173.65 L714.70 1174.12 L716.27 1174.58 L717.84 1175.04 L719.41 1175.49 L720.98 1175.94 L722.55 1176.39 L724.12 1176.82 L725.68 1177.26 L727.25 1177.69 L728.82 1178.11 L730.39 1178.53 L731.96 1178.94 L733.53 1179.35 L735.10 1179.76 L736.67 1180.16 L738.24 1180.55 L739.81 1180.94 L741.37 1181.33 L742.94 1181.71 L744.51 1182.09 L746.08 1182.46 L747.65 1182.83 L749.22 1183.19 L750.79 1183.55 L752.36 1183.90 L753.93 1184.26 L755.50 1184.60 L757.06 1184.95 L758.63 1185.28 L760.20 1185.62 L761.77 1185.95 L763.34 1186.28 L764.91 1186.60 L766.48 1186.92 L768.05 1187.23 L769.62 1187.54 L771.19 1187.85 L772.75 1188.16 L774.32 1188.46 L775.89 1188.75 L777.46 1189.05 L779.03 1189.34 L780.60 1189.62 L782.17 1189.90 L783.74 1190.18 L785.31 1190.46 L786.88 1190.73 L788.44 1191.00 L790.01 1191.27 L791.58 1191.53 L793.15 1191.79 L794.72 1192.04 L796.29 1192.30 L797.86 1192.55 L799.43 1192.79 L801.00 1193.04 L802.57 1193.28 L804.13 1193.51 L805.70 1193.75 L807.27 1193.98 L808.84 1194.21 L810.41 1194.43 L811.98 1194.66 L813.55 1194.88 L815.12 1195.10 L816.69 1195.31 L818.25 1195.52 L819.82 1195.73 L821.39 1195.94 L822.96 1196.14 L824.53 1196.34 L826.10 1196.54 L827.67 1196.74 L829.24 1196.93 L830.81 1197.13 L832.38 1197.32 L833.95 1197.50 L835.51 1197.69 L837.08 1197.87 L838.65 1198.05 L840.22 1198.23 L841.79 1198.41 L843.36 1198.59 L844.93 1198.76 L846.50 1198.93 L848.07 1199.10 L849.64 1199.27 L851.20 1199.43 L852.77 1199.60 L854.34 1199.76 L855.91 1199.92 L857.48 1200.08 L859.05 1200.23 L860.62 1200.39 L862.19 1200.54 L863.76 1200.69 L865.33 1200.84 L866.89 1200.99 L868.46 1201.13 L870.03 1201.28 L871.60 1201.42 L873.17 1201.56 L874.74 1201.70 L876.31 1201.84 L877.88 1201.97 L879.45 1202.11 L881.02 1202.24 L882.58 1202.37 L884.15 1202.50 L885.72 1202.63 L887.29 1202.75 L888.86 1202.88 L890.43 1203.00 L892.00 1203.12 L893.57 1203.25 L895.14 1203.37 L896.71 1203.48 L898.27 1203.60 L899.84 1203.72 L901.41 1203.83 L902.98 1203.94 L904.55 1204.05 L906.12 1204.16 L907.69 1204.27 L909.26 1204.38 L910.83 1204.49 L912.39 1204.59 L913.96 1204.69 L915.53 1204.80 L917.10 1204.90 L918.67 1205.00 L920.24 1205.10 L921.81 1205.20 L923.38 1205.29 L924.95 1205.39 L926.52 1205.48 L928.09 1205.58 L929.65 1205.67 L931.22 1205.76 L932.79 1205.85 L934.36 1205.94 L935.93 1206.03 L937.50 1206.11 L939.07 1206.20 L940.64 1206.28 L942.21 1206.37 L943.77 1206.45 L945.34 1206.53 L946.91 1206.61 L948.48 1206.69 L950.05 1206.77 L951.62 1206.85 L953.19 1206.93 L954.76 1207.00 L956.33 1207.08 L957.90 1207.15 L959.47 1207.23 L961.03 1207.30 L962.60 1207.37 L964.17 1207.44 L965.74 1207.51 L967.31 1207.58 L968.88 1207.65 L970.45 1207.72 L972.02 1207.79 L973.59 1207.85 L975.16 1207.92 L976.72 1207.98 L978.29 1208.05 L979.86 1208.11 L981.43 1208.17 L983.00 1208.23 L989.59 1208.49 L996.18 1208.72 L1002.78 1208.95 L1009.37 1209.17 L1015.96 1209.37 L1022.55 1209.57 L1029.15 1209.75 L1035.74 1209.93 L1042.33 1210.10 L1048.92 1210.26 L1055.52 1210.41 L1062.11 1210.56 L1068.70 1210.69 L1075.29 1210.82 L1081.89 1210.95 L1088.48 1211.07 L1095.07 1211.18 L1101.66 1211.29 L1108.26 1211.39 L1114.85 1211.48 L1121.44 1211.57 L1128.03 1211.66 L1134.63 1211.75 L1141.22 1211.82 L1147.81 1211.90 L1154.40 1211.97 L1161.00 1212.04 L1167.59 1212.10 L1174.18 1212.17 L1180.77 1212.22 L1187.37 1212.28 L1193.96 1212.33 L1200.55 1212.38 L1207.14 1212.43 L1213.74 1212.48 L1220.33 1212.52 L1226.92 1212.57 L1233.51 1212.61 L1240.11 1212.64 L1246.70 1212.68 L1253.29 1212.71 L1259.88 1212.75 L1266.47 1212.78 L1273.07 1212.81 L1279.66 1212.84 L1286.25 1212.86 L1292.84 1212.89 L1299.44 1212.91 L1306.03 1212.94 L1312.62 1212.96 L1319.21 1212.98 L1325.81 1213.00 L1332.40 1213.02 L1338.99 1213.04 L1345.58 1213.06 L1352.18 1213.07 L1358.77 1213.09 L1365.36 1213.10 L1371.95 1213.12 L1378.55 1213.13 L1385.14 1213.14 L1391.73 1213.16 L1398.32 1213.17 L1404.92 1213.18 L1411.51 1213.19 L1418.10 1213.20 L1424.69 1213.21 L1431.29 1213.22 L1437.88 1213.23 L1444.47 1213.24 L1451.06 1213.24 L1457.66 1213.25 L1464.25 1213.26 L1470.84 1213.27 L1477.43 1213.27 L1484.03 1213.28 L1490.62 1213.28 L1497.21 1213.29 L1503.80 1213.29 L1510.39 1213.30 L1516.99 1213.30 L1523.58 1213.31 L1530.17 1213.31 L1536.76 1213.32 L1543.36 1213.32 L1549.95 1213.33 L1556.54 1213.33 L1563.13 1213.33 L1569.73 1213.34 L1576.32 1213.34 L1582.91 1213.34 L1589.50 1213.34 L1596.10 1213.35 L1602.69 1213.35 L1609.28 1213.35 L1615.87 1213.35 L1622.47 1213.36 L1629.06 1213.36 L1635.65 1213.36 L1642.24 1213.36 L1648.84 1213.36 L1655.43 1213.37 L1662.02 1213.37 L1668.61 1213.37 L1675.21 1213.37 L1681.80 1213.37 L1688.39 1213.37 L1694.98 1213.37 L1701.58 1213.38 L1708.17 1213.38 L1714.76 1213.38 L1721.35 1213.38 L1727.95 1213.38 L1734.54 1213.38 L1741.13 1213.38 L1747.72 1213.38 L1754.32 1213.38 L1760.91 1213.38 L1767.50 1213.38"/>
<path d="M198.50 43.40 L200.07 51.45 L201.64 59.44 L203.21 67.39 L204.78 75.28 L206.34 83.13 L207.91 90.93 L209.48 98.68 L211.05 106.38 L212.62 114.03 L214.19 121.64 L215.76 129.21 L217.33 136.73 L218.90 144.20 L220.47 151.63 L222.03 159.02 L223.60 166.37 L225.17 173.67 L226.74 180.93 L228.31 188.15 L229.88 195.33 L231.45 202.46 L233.02 209.56 L234.59 216.62 L236.16 223.64 L237.72 230.62 L239.29 237.55 L240.86 244.46 L242.43 251.32 L244.00 258.14 L245.57 264.93 L247.14 271.68 L248.71 278.39 L250.28 285.06 L251.85 291.70 L253.42 298.30 L254.98 304.87 L256.55 311.40 L258.12 317.89 L259.69 324.34 L261.26 330.76 L262.83 337.15 L264.40 343.50 L265.97 349.81 L267.54 356.09 L269.11 362.33 L270.67 368.54 L272.24 374.72 L273.81 380.85 L275.38 386.96 L276.95 393.03 L278.52 399.07 L280.09 405.08 L281.66 411.08 L283.23 417.05 L284.80 423.00 L286.36 428.92 L287.93 434.83 L289.50 440.71 L291.07 446.56 L292.64 452.40 L294.21 458.21 L295.78 464.00 L297.35 469.76 L298.92 475.50 L300.49 481.22 L302.05 486.91 L303.62 492.58 L305.19 498.22 L306.76 503.84 L308.33 509.44 L309.90 515.01 L311.47 520.55 L313.04 526.06 L314.61 531.55 L316.18 537.02 L317.74 542.45 L319.31 547.86 L320.88 553.24 L322.45 558.59 L324.02 563.91 L325.59 569.20 L327.16 574.47 L328.73 579.70 L330.30 584.90 L331.87 590.07 L333.43 595.20 L335.00 600.31 L336.57 605.38 L338.14 610.42 L339.71 615.42 L341.28 620.39 L342.85 625.33 L344.42 630.23 L345.99 635.09 L347.56 639.92 L349.12 644.71 L350.69 649.46 L352.26 654.17 L353.83 658.85 L355.40 663.49 L356.97 668.09 L358.54 672.66 L360.11 677.20 L361.68 681.71 L363.25 686.19 L364.81 690.64 L366.38 695.06 L367.95 699.45 L369.52 703.81 L371.09 708.14 L372.66 712.43 L374.23 716.70 L375.80 720.94 L377.37 725.15 L378.94 729.34 L380.50 733.49 L382.07 737.61 L383.64 741.71 L385.21 745.77 L386.78 749.81 L388.35 753.82 L389.92 757.80 L391.49 761.75 L393.06 765.67 L394.62 769.57 L396.19 773.44 L397.76 777.28 L399.33 781.09 L400.90 784.88 L402.47 788.64 L404.04 792.37 L405.61 796.08 L407.18 799.76 L408.75 803.41 L410.32 807.03 L411.88 810.63 L413.45 814.21 L415.02 817.75 L416.59 821.28 L418.16 824.77 L419.73 828.24 L421.30 831.69 L422.87 835.11 L424.44 838.50 L426.00 841.87 L427.57 845.22 L429.14 848.54 L430.71 851.83 L432.28 855.10 L433.85 858.35 L435.42 861.57 L436.99 864.77 L438.56 867.95 L440.13 871.10 L441.70 874.23 L443.26 877.33 L444.83 880.41 L446.40 883.47 L447.97 886.50 L449.54 889.52 L451.11 892.50 L452.68 895.47 L454.25 898.41 L455.82 901.33 L457.39 904.23 L458.95 907.10 L460.52 909.95 L462.09 912.78 L463.66 915.59 L465.23 918.37 L466.80 921.13 L468.37 923.87 L469.94 926.59 L471.51 929.29 L473.07 931.96 L474.64 934.62 L476.21 937.25 L477.78 939.86 L479.35 942.45 L480.92 945.01 L482.49 947.56 L484.06 950.08 L485.63 952.59 L487.20 955.07 L488.77 957.53 L490.33 959.98 L491.90 962.40 L493.47 964.80 L495.04 967.18 L496.61 969.54 L498.18 971.88 L499.75 974.20 L501.32 976.50 L502.89 978.78 L504.45 981.04 L506.02 983.28 L507.59 985.50 L509.16 987.70 L510.73 989.88 L512.30 992.05 L513.87 994.19 L515.44 996.32 L517.01 998.43 L518.58 1000.53 L520.14 1002.61 L521.71 1004.67 L523.28 1006.72 L524.85 1008.75 L526.42 1010.76 L527.99 1012.76 L529.56 1014.74 L531.13 1016.70 L532.70 1018.65 L534.27 1020.59 L535.84 1022.50 L537.40 1024.41 L538.97 1026.29 L540.54 1028.16 L542.11 1030.02 L543.68 1031.85 L545.25 1033.68 L546.82 1035.48 L548.39 1037.28 L549.96 1039.05 L551.53 1040.81 L553.09 1042.56 L554.66 1044.29 L556.23 1046.00 L557.80 1047.70 L559.37 1049.39 L560.94 1051.06 L562.51 1052.71 L564.08 1054.35 L565.65 1055.98 L567.22 1057.59 L568.78 1059.19 L570.35 1060.77 L571.92 1062.33 L573.49 1063.89 L575.06 1065.42 L576.63 1066.95 L578.20 1068.46 L579.77 1069.95 L581.34 1071.43 L582.90 1072.90 L584.47 1074.35 L586.04 1075.79 L587.61 1077.22 L589.18 1078.63 L590.75 1080.03 L592.32 1081.41 L593.89 1082.78 L595.46 1084.14 L597.03 1085.48 L598.60 1086.81 L600.16 1088.13 L601.73 1089.43 L603.30 1090.72 L604.87 1092.00 L606.44 1093.27 L608.01 1094.52 L609.58 1095.76 L611.15 1096.99 L612.72 1098.20 L614.29 1099.40 L615.85 1100.59 L617.42 1101.77 L618.99 1102.93 L620.56 1104.08 L622.13 1105.22 L623.70 1106.35 L625.27 1107.47 L626.84 1108.57 L628.41 1109.66 L629.98 1110.74 L631.54 1111.81 L633.11 1112.87 L634.68 1113.92 L636.25 1114.95 L637.82 1115.97 L639.39 1116.98 L640.96 1117.98 L642.53 1118.97 L644.10 1119.95 L645.66 1120.92 L647.23 1121.88 L648.80 1122.82 L650.37 1123.76 L651.94 1124.68 L653.51 1125.60 L655.08 1126.50 L656.65 1127.39 L658.22 1128.28 L659.79 1129.15 L661.36 1130.01 L662.92 1130.87 L664.49 1131.71 L666.06 1132.54 L667.63 1133.36 L669.20 1134.18 L670.77 1134.98 L672.34 1135.78 L673.91 1136.57 L675.48 1137.35 L677.05 1138.12 L678.61 1138.88 L680.18 1139.64 L681.75 1140.39 L683.32 1141.13 L684.89 1141.86 L686.46 1142.59 L688.03 1143.31 L689.60 1144.02 L691.17 1144.72 L692.74 1145.42 L694.30 1146.11 L695.87 1146.79 L697.44 1147.47 L699.01 1148.14 L700.58 1148.80 L702.15 1149.46 L703.72 1150.11 L705.29 1150.75 L706.86 1151.38 L708.42 1152.01 L709.99 1152.64 L711.56 1153.25 L713.13 1153.86 L714.70 1154.47 L716.27 1155.06 L717.84 1155.65 L719.41 1156.24 L720.98 1156.82 L722.55 1157.39 L724.12 1157.96 L725.68 1158.52 L727.25 1159.08 L728.82 1159.63 L730.39 1160.17 L731.96 1160.71 L733.53 1161.25 L735.10 1161.77 L736.67 1162.30 L738.24 1162.82 L739.81 1163.33 L741.37 1163.83 L742.94 1164.34 L744.51 1164.83 L746.08 1165.33 L747.65 1165.81 L749.22 1166.29 L750.79 1166.77 L752.36 1167.24 L753.93 1167.71 L755.50 1168.17 L757.06 1168.63 L758.63 1169.08 L760.20 1169.53 L761.77 1169.97 L763.34 1170.41 L764.91 1170.85 L766.48 1171.28 L768.05 1171.70 L769.62 1172.13 L771.19 1172.54 L772.75 1172.96 L774.32 1173.37 L775.89 1173.77 L777.46 1174.17 L779.03 1174.57 L780.60 1174.96 L782.17 1175.35 L783.74 1175.73 L785.31 1176.11 L786.88 1176.49 L788.44 1176.86 L790.01 1177.23 L791.58 1177.60 L793.15 1177.96 L794.72 1178.32 L796.29 1178.67 L797.86 1179.02 L799.43 1179.37 L801.00 1179.71 L802.57 1180.05 L804.13 1180.39 L805.70 1180.72 L807.27 1181.05 L808.84 1181.38 L810.41 1181.70 L811.98 1182.02 L813.55 1182.34 L815.12 1182.65 L816.69 1182.96 L818.25 1183.27 L819.82 1183.58 L821.39 1183.88 L822.96 1184.17 L824.53 1184.47 L826.10 1184.76 L827.67 1185.05 L829.24 1185.34 L830.81 1185.62 L832.38 1185.90 L833.95 1186.18 L835.51 1186.45 L837.08 1186.73 L838.65 1187.00 L840.22 1187.26 L841.79 1187.53 L843.36 1187.79 L844.93 1188.05 L846.50 1188.31 L848.07 1188.56 L849.64 1188.81 L851.20 1189.06 L852.77 1189.31 L854.34 1189.56 L855.91 1189.80 L857.48 1190.04 L859.05 1190.28 L860.62 1190.51 L862.19 1190.74 L863.76 1190.97 L865.33 1191.20 L866.89 1191.43 L868.46 1191.65 L870.03 1191.87 L871.60 1192.09 L873.17 1192.31 L874.74 1192.53 L876.31 1192.74 L877.88 1192.95 L879.45 1193.16 L881.02 1193.36 L882.58 1193.57 L884.15 1193.77 L885.72 1193.97 L887.29 1194.17 L888.86 1194.37 L890.43 1194.56 L892.00 1194.75 L893.57 1194.94 L895.14 1195.13 L896.71 1195.32 L898.27 1195.51 L899.84 1195.69 L901.41 1195.87 L902.98 1196.05 L904.55 1196.23 L906.12 1196.40 L907.69 1196.58 L909.26 1196.75 L910.83 1196.92 L912.39 1197.09 L913.96 1197.26 L915.53 1197.42 L917.10 1197.59 L918.67 1197.75 L920.24 1197.91 L921.81 1198.07 L923.38 1198.23 L924.95 1198.38 L926.52 1198.53 L928.09 1198.69 L929.65 1198.84 L931.22 1198.99 L932.79 1199.14 L934.36 1199.28 L935.93 1199.43 L937.50 1199.57 L939.07 1199.71 L940.64 1199.85 L942.21 1199.99 L943.77 1200.13 L945.34 1200.27 L946.91 1200.40 L948.48 1200.54 L950.05 1200.67 L951.62 1200.80 L953.19 1200.93 L954.76 1201.06 L956.33 1201.18 L957.90 1201.31 L959.47 1201.43 L961.03 1201.56 L962.60 1201.68 L964.17 1201.80 L965.74 1201.92 L967.31 1202.04 L968.88 1202.15 L970.45 1202.27 L972.02 1202.38 L973.59 1202.50 L975.16 1202.61 L976.72 1202.72 L978.29 1202.83 L979.86 1202.94 L981.43 1203.05 L983.00 1203.15 L989.59 1203.59 L996.18 1204.01 L1002.78 1204.41 L1009.37 1204.79 L1015.96 1205.15 L1022.55 1205.50 L1029.15 1205.84 L1035.74 1206.16 L1042.33 1206.46 L1048.92 1206.76 L1055.52 1207.04 L1062.11 1207.31 L1068.70 1207.56 L1075.29 1207.81 L1081.89 1208.04 L1088.48 1208.27 L1095.07 1208.48 L1101.66 1208.69 L1108.26 1208.88 L1114.85 1209.07 L1121.44 1209.25 L1128.03 1209.42 L1134.63 1209.59 L1141.22 1209.74 L1147.81 1209.89 L1154.40 1210.04 L1161.00 1210.18 L1167.59 1210.31 L1174.18 1210.44 L1180.77 1210.56 L1187.37 1210.68 L1193.96 1210.79 L1200.55 1210.90 L1207.14 1211.00 L1213.74 1211.10 L1220.33 1211.19 L1226.92 1211.28 L1233.51 1211.37 L1240.11 1211.46 L1246.70 1211.54 L1253.29 1211.61 L1259.88 1211.69 L1266.47 1211.76 L1273.07 1211.82 L1279.66 1211.89 L1286.25 1211.95 L1292.84 1212.01 L1299.44 1212.07 L1306.03 1212.12 L1312.62 1212.18 L1319.21 1212.23 L1325.81 1212.28 L1332.40 1212.32 L1338.99 1212.37 L1345.58 1212.41 L1352.18 1212.45 L1358.77 1212.49 L1365.36 1212.53 L1371.95 1212.56 L1378.55 1212.60 L1385.14 1212.63 L1391.73 1212.66 L1398.32 1212.69 L1404.92 1212.72 L1411.51 1212.75 L1418.10 1212.78 L1424.69 1212.80 L1431.29 1212.83 L1437.88 1212.85 L1444.47 1212.87 L1451.06 1212.90 L1457.66 1212.92 L1464.25 1212.94 L1470.84 1212.96 L1477.43 1212.97 L1484.03 1212.99 L1490.62 1213.01 L1497.21 1213.02 L1503.80 1213.04 L1510.39 1213.05 L1516.99 1213.07 L1523.58 1213.08 L1530.17 1213.10 L1536.76 1213.11 L1543.36 1213.12 L1549.95 1213.13 L1556.54 1213.14 L1563.13 1213.15 L1569.73 1213.16 L1576.32 1213.17 L1582.91 1213.18 L1589.50 1213.19 L1596.10 1213.20 L1602.69 1213.21 L1609.28 1213.22 L1615.87 1213.22 L1622.47 1213.23 L1629.06 1213.24 L1635.65 1213.24 L1642.24 1213.25 L1648.84 1213.26 L1655.43 1213.26 L1662.02 1213.27 L1668.61 1213.27 L1675.21 1213.28 L1681.80 1213.28 L1688.39 1213.29 L1694.98 1213.29 L1701.58 1213.30 L1708.17 1213.30 L1714.76 1213.31 L1721.35 1213.31 L1727.95 1213.31 L1734.54 1213.32 L1741.13 1213.32 L1747.72 1213.32 L1754.32 1213.33 L1760.91 1213.33 L1767.50 1213.33"/>
</g>
<g fill="none" stroke="#000" stroke-width="7.5" stroke-dasharray="20.3 18.7" transform="scale(1.25,1)" shape-rendering="crispEdges">
<path d="M158.80 43.40 L160.06 55.06 L161.31 66.66 L162.57 78.18 L163.82 89.63 L165.08 101.01 L166.33 112.31 L167.59 123.54 L168.84 134.71 L170.10 145.80 L171.35 156.81 L172.61 167.76 L173.86 178.63 L175.12 189.43 L176.37 200.16 L177.63 210.81 L178.88 221.40 L180.14 231.91 L181.39 242.35 L182.65 252.71 L183.90 263.00 L185.16 273.23 L186.41 283.37 L187.67 293.45 L188.92 303.45 L190.18 313.38 L191.44 323.24 L192.69 333.03 L193.95 342.74 L195.20 352.38 L196.46 361.95 L197.71 371.45 L198.97 380.88 L200.22 390.23 L201.48 399.51 L202.73 408.72 L203.99 417.86 L205.24 426.93 L206.50 435.93 L207.75 444.85 L209.01 453.71 L210.26 462.49 L211.52 471.20 L212.77 479.84 L214.03 488.41 L215.28 496.91 L216.54 505.35 L217.79 513.71 L219.05 522.00 L220.30 530.22 L221.56 538.37 L222.82 546.45 L224.07 554.47 L225.33 562.43 L226.58 570.32 L227.84 578.15 L229.09 585.91 L230.35 593.61 L231.60 601.25 L232.86 608.81 L234.11 616.32 L235.37 623.76 L236.62 631.13 L237.88 638.45 L239.13 645.69 L240.39 652.87 L241.64 659.99 L242.90 667.04 L244.15 674.02 L245.41 680.94 L246.66 687.79 L247.92 694.58 L249.17 701.30 L250.43 707.96 L251.68 714.55 L252.94 721.07 L254.20 727.53 L255.45 733.93 L256.71 740.25 L257.96 746.51 L259.22 752.71 L260.47 758.83 L261.73 764.90 L262.98 770.89 L264.24 776.82 L265.49 782.69 L266.75 788.48 L268.00 794.22 L269.26 799.88 L270.51 805.48 L271.77 811.01 L273.02 816.48 L274.28 821.89 L275.53 827.22 L276.79 832.49 L278.04 837.70 L279.30 842.84 L280.55 847.92 L281.81 852.93 L283.06 857.88 L284.32 862.76 L285.58 867.58 L286.83 872.34 L288.09 877.05 L289.34 881.69 L290.60 886.28 L291.85 890.81 L293.11 895.29 L294.36 899.71 L295.62 904.07 L296.87 908.38 L298.13 912.64 L299.38 916.84 L300.64 920.99 L301.89 925.09 L303.15 929.13 L304.40 933.13 L305.66 937.07 L306.91 940.97 L308.17 944.82 L309.42 948.61 L310.68 952.36 L311.93 956.06 L313.19 959.72 L314.44 963.33 L315.70 966.89 L316.96 970.40 L318.21 973.88 L319.47 977.30 L320.72 980.69 L321.98 984.03 L323.23 987.32 L324.49 990.58 L325.74 993.79 L327.00 996.96 L328.25 1000.10 L329.51 1003.19 L330.76 1006.24 L332.02 1009.25 L333.27 1012.22 L334.53 1015.16 L335.78 1018.06 L337.04 1020.92 L338.29 1023.74 L339.55 1026.53 L340.80 1029.28 L342.06 1031.99 L343.31 1034.68 L344.57 1037.32 L345.82 1039.93 L347.08 1042.51 L348.34 1045.06 L349.59 1047.57 L350.85 1050.05 L352.10 1052.50 L353.36 1054.92 L354.61 1057.30 L355.87 1059.66 L357.12 1061.98 L358.38 1064.28 L359.63 1066.54 L360.89 1068.77 L362.14 1070.97 L363.40 1073.15 L364.65 1075.29 L365.91 1077.40 L367.16 1079.49 L368.42 1081.54 L369.67 1083.57 L370.93 1085.57 L372.18 1087.54 L373.44 1089.48 L374.69 1091.40 L375.95 1093.28 L377.20 1095.14 L378.46 1096.98 L379.72 1098.78 L380.97 1100.56 L382.23 1102.32 L383.48 1104.04 L384.74 1105.75 L385.99 1107.42 L387.25 1109.07 L388.50 1110.70 L389.76 1112.30 L391.01 1113.88 L392.27 1115.43 L393.52 1116.96 L394.78 1118.47 L396.03 1119.95 L397.29 1121.41 L398.54 1122.84 L399.80 1124.25 L401.05 1125.64 L402.31 1127.01 L403.56 1128.36 L404.82 1129.68 L406.07 1130.99 L407.33 1132.27 L408.58 1133.53 L409.84 1134.77 L411.10 1135.99 L412.35 1137.19 L413.61 1138.38 L414.86 1139.54 L416.12 1140.69 L417.37 1141.82 L418.63 1142.94 L419.88 1144.04 L421.14 1145.12 L422.39 1146.18 L423.65 1147.23 L424.90 1148.26 L426.16 1149.28 L427.41 1150.28 L428.67 1151.27 L429.92 1152.24 L431.18 1153.20 L432.43 1154.14 L433.69 1155.07 L434.94 1155.98 L436.20 1156.88 L437.45 1157.77 L438.71 1158.64 L439.96 1159.50 L441.22 1160.35 L442.48 1161.18 L443.73 1162.00 L444.99 1162.81 L446.24 1163.61 L447.50 1164.39 L448.75 1165.16 L450.01 1165.92 L451.26 1166.67 L452.52 1167.41 L453.77 1168.13 L455.03 1168.85 L456.28 1169.55 L457.54 1170.24 L458.79 1170.93 L460.05 1171.60 L461.30 1172.26 L462.56 1172.91 L463.81 1173.55 L465.07 1174.18 L466.32 1174.81 L467.58 1175.42 L468.83 1176.02 L470.09 1176.61 L471.34 1177.20 L472.60 1177.77 L473.86 1178.34 L475.11 1178.90 L476.37 1179.45 L477.62 1179.99 L478.88 1180.52 L480.13 1181.04 L481.39 1181.56 L482.64 1182.07 L483.90 1182.57 L485.15 1183.06 L486.41 1183.55 L487.66 1184.02 L488.92 1184.49 L490.17 1184.96 L491.43 1185.41 L492.68 1185.86 L493.94 1186.30 L495.19 1186.74 L496.45 1187.17 L497.70 1187.59 L498.96 1188.00 L500.21 1188.41 L501.47 1188.81 L502.72 1189.21 L503.98 1189.60 L505.24 1189.98 L506.49 1190.36 L507.75 1190.73 L509.00 1191.10 L510.26 1191.46 L511.51 1191.81 L512.77 1192.16 L514.02 1192.51 L515.28 1192.85 L516.53 1193.18 L517.79 1193.51 L519.04 1193.83 L520.30 1194.15 L521.55 1194.46 L522.81 1194.77 L524.06 1195.08 L525.32 1195.37 L526.57 1195.67 L527.83 1195.96 L529.08 1196.24 L530.34 1196.52 L531.59 1196.80 L532.85 1197.07 L534.10 1197.34 L535.36 1197.60 L536.62 1197.86 L537.87 1198.12 L539.13 1198.37 L540.38 1198.62 L541.64 1198.86 L542.89 1199.10 L544.15 1199.34 L545.40 1199.57 L546.66 1199.80 L547.91 1200.03 L549.17 1200.25 L550.42 1200.47 L551.68 1200.68 L552.93 1200.90 L554.19 1201.10 L555.44 1201.31 L556.70 1201.51 L557.95 1201.71 L559.21 1201.91 L560.46 1202.10 L561.72 1202.29 L562.97 1202.48 L564.23 1202.66 L565.48 1202.84 L566.74 1203.02 L568.00 1203.19 L569.25 1203.36 L570.51 1203.53 L571.76 1203.70 L573.02 1203.86 L574.27 1204.02 L575.53 1204.18 L576.78 1204.34 L578.04 1204.49 L579.29 1204.64 L580.55 1204.79 L581.80 1204.94 L583.06 1205.08 L584.31 1205.22 L585.57 1205.36 L586.82 1205.50 L588.08 1205.63 L589.33 1205.76 L590.59 1205.89 L591.84 1206.02 L593.10 1206.15 L594.35 1206.27 L595.61 1206.39 L596.86 1206.51 L598.12 1206.63 L599.38 1206.74 L600.63 1206.86 L601.89 1206.97 L603.14 1207.08 L604.40 1207.18 L605.65 1207.29 L606.91 1207.39 L608.16 1207.50 L609.42 1207.60 L610.67 1207.69 L611.93 1207.79 L613.18 1207.89 L614.44 1207.98 L615.69 1208.07 L616.95 1208.16 L618.20 1208.25 L619.46 1208.34 L620.71 1208.43 L621.97 1208.51 L623.22 1208.59 L624.48 1208.67 L625.73 1208.75 L626.99 1208.83 L628.24 1208.91 L629.50 1208.99 L630.76 1209.06 L632.01 1209.13 L633.27 1209.20 L634.52 1209.28 L635.78 1209.34 L637.03 1209.41 L638.29 1209.48 L639.54 1209.55 L640.80 1209.61 L642.05 1209.67 L643.31 1209.74 L644.56 1209.80 L645.82 1209.86 L647.07 1209.92 L648.33 1209.97 L649.58 1210.03 L650.84 1210.09 L652.09 1210.14 L653.35 1210.20 L654.60 1210.25 L655.86 1210.30 L657.11 1210.35 L658.37 1210.40 L659.62 1210.45 L660.88 1210.50 L662.14 1210.55 L663.39 1210.59 L664.65 1210.64 L665.90 1210.69 L667.16 1210.73 L668.41 1210.77 L669.67 1210.82 L670.92 1210.86 L672.18 1210.90 L673.43 1210.94 L674.69 1210.98 L675.94 1211.02 L677.20 1211.06 L678.45 1211.10 L679.71 1211.14 L680.96 1211.17 L682.22 1211.21 L683.47 1211.25 L684.73 1211.28 L685.98 1211.32 L687.24 1211.35 L688.49 1211.38 L689.75 1211.42 L691.00 1211.45 L692.26 1211.48 L693.52 1211.51 L694.77 1211.54 L696.03 1211.57 L697.28 1211.60 L698.54 1211.63 L699.79 1211.66 L701.05 1211.69 L702.30 1211.72 L703.56 1211.75 L704.81 1211.77 L706.07 1211.80 L707.32 1211.83 L708.58 1211.85 L709.83 1211.88 L711.09 1211.90 L712.34 1211.93 L713.60 1211.95 L714.85 1211.97 L716.11 1212.00 L717.36 1212.02 L718.62 1212.04 L719.87 1212.07 L721.13 1212.09 L722.38 1212.11 L723.64 1212.13 L724.90 1212.15 L726.15 1212.17 L727.41 1212.19 L728.66 1212.21 L729.92 1212.23 L731.17 1212.25 L732.43 1212.27 L733.68 1212.29 L734.94 1212.31 L736.19 1212.32 L737.45 1212.34 L738.70 1212.36 L739.96 1212.38 L741.21 1212.39 L742.47 1212.41 L743.72 1212.42 L744.98 1212.44 L746.23 1212.46 L747.49 1212.47 L748.74 1212.49 L750.00 1212.50 L751.25 1212.52 L752.51 1212.53 L753.76 1212.55 L755.02 1212.56 L756.28 1212.57 L757.53 1212.59 L758.79 1212.60 L760.04 1212.61 L761.30 1212.63 L762.55 1212.64 L763.81 1212.65 L765.06 1212.66 L766.32 1212.68 L767.57 1212.69 L768.83 1212.70 L770.08 1212.71 L771.34 1212.72 L772.59 1212.73 L773.85 1212.74 L775.10 1212.75 L776.36 1212.77 L777.61 1212.78 L778.87 1212.79 L780.12 1212.80 L781.38 1212.81 L782.63 1212.82 L783.89 1212.82 L785.14 1212.83 L786.40 1212.84 L791.67 1212.88 L796.95 1212.92 L802.22 1212.95 L807.50 1212.98 L812.77 1213.01 L818.04 1213.03 L823.32 1213.06 L828.59 1213.08 L833.87 1213.10 L839.14 1213.12 L844.41 1213.14 L849.69 1213.16 L854.96 1213.17 L860.24 1213.19 L865.51 1213.20 L870.78 1213.22 L876.06 1213.23 L881.33 1213.24 L886.61 1213.25 L891.88 1213.26 L897.15 1213.27 L902.43 1213.28 L907.70 1213.29 L912.97 1213.29 L918.25 1213.30 L923.52 1213.31 L928.80 1213.31 L934.07 1213.32 L939.34 1213.33 L944.62 1213.33 L949.89 1213.34 L955.17 1213.34 L960.44 1213.34 L965.71 1213.35 L970.99 1213.35 L976.26 1213.35 L981.54 1213.36 L986.81 1213.36 L992.08 1213.36 L997.36 1213.37 L1002.63 1213.37 L1007.91 1213.37 L1013.18 1213.37 L1018.45 1213.37 L1023.73 1213.38 L1029.00 1213.38 L1034.28 1213.38 L1039.55 1213.38 L1044.82 1213.38 L1050.10 1213.38 L1055.37 1213.38 L1060.65 1213.39 L1065.92 1213.39 L1071.19 1213.39 L1076.47 1213.39 L1081.74 1213.39 L1087.02 1213.39 L1092.29 1213.39 L1097.56 1213.39 L1102.84 1213.39 L1108.11 1213.39 L1113.38 1213.39 L1118.66 1213.39 L1123.93 1213.39 L1129.21 1213.39 L1134.48 1213.39 L1139.75 1213.39 L1145.03 1213.40 L1150.30 1213.40 L1155.58 1213.40 L1160.85 1213.40 L1166.12 1213.40 L1171.40 1213.40 L1176.67 1213.40 L1181.95 1213.40 L1187.22 1213.40 L1192.49 1213.40 L1197.77 1213.40 L1203.04 1213.40 L1208.32 1213.40 L1213.59 1213.40 L1218.86 1213.40 L1224.14 1213.40 L1229.41 1213.40 L1234.69 1213.40 L1239.96 1213.40 L1245.23 1213.40 L1250.51 1213.40 L1255.78 1213.40 L1261.06 1213.40 L1266.33 1213.40 L1271.60 1213.40 L1276.88 1213.40 L1282.15 1213.40 L1287.43 1213.40 L1292.70 1213.40 L1297.97 1213.40 L1303.25 1213.40 L1308.52 1213.40 L1313.79 1213.40 L1319.07 1213.40 L1324.34 1213.40 L1329.62 1213.40 L1334.89 1213.40 L1340.16 1213.40 L1345.44 1213.40 L1350.71 1213.40 L1355.99 1213.40 L1361.26 1213.40 L1366.53 1213.40 L1371.81 1213.40 L1377.08 1213.40 L1382.36 1213.40 L1387.63 1213.40 L1392.90 1213.40 L1398.18 1213.40 L1403.45 1213.40 L1408.73 1213.40 L1414.00 1213.40"/>
<path d="M158.80 43.40 L160.06 54.01 L161.31 64.54 L162.57 75.00 L163.82 85.38 L165.08 95.69 L166.33 105.92 L167.59 116.09 L168.84 126.18 L170.10 136.20 L171.35 146.16 L172.61 156.05 L173.86 165.86 L175.12 175.62 L176.37 185.30 L177.63 194.92 L178.88 204.48 L180.14 213.97 L181.39 223.40 L182.65 232.76 L183.90 242.06 L185.16 251.30 L186.41 260.48 L187.67 269.60 L188.92 278.65 L190.18 287.65 L191.44 296.58 L192.69 305.46 L193.95 314.28 L195.20 323.04 L196.46 331.74 L197.71 340.38 L198.97 348.97 L200.22 357.50 L201.48 365.97 L202.73 374.38 L203.99 382.74 L205.24 391.04 L206.50 399.29 L207.75 407.48 L209.01 415.61 L210.26 423.69 L211.52 431.71 L212.77 439.68 L214.03 447.60 L215.28 455.46 L216.54 463.26 L217.79 471.01 L219.05 478.71 L220.30 486.35 L221.56 493.93 L222.82 501.48 L224.07 508.98 L225.33 516.45 L226.58 523.88 L227.84 531.27 L229.09 538.63 L230.35 545.94 L231.60 553.22 L232.86 560.46 L234.11 567.66 L235.37 574.82 L236.62 581.93 L237.88 589.01 L239.13 596.04 L240.39 603.04 L241.64 609.98 L242.90 616.89 L244.15 623.75 L245.41 630.56 L246.66 637.33 L247.92 644.05 L249.17 650.72 L250.43 657.35 L251.68 663.92 L252.94 670.45 L254.20 676.92 L255.45 683.34 L256.71 689.71 L257.96 696.03 L259.22 702.29 L260.47 708.50 L261.73 714.65 L262.98 720.75 L264.24 726.78 L265.49 732.76 L266.75 738.69 L268.00 744.55 L269.26 750.35 L270.51 756.09 L271.77 761.77 L273.02 767.39 L274.28 772.95 L275.53 778.44 L276.79 783.87 L278.04 789.24 L279.30 794.54 L280.55 799.77 L281.81 804.94 L283.06 810.04 L284.32 815.08 L285.58 820.05 L286.83 824.98 L288.09 829.84 L289.34 834.66 L290.60 839.42 L291.85 844.14 L293.11 848.80 L294.36 853.41 L295.62 857.97 L296.87 862.47 L298.13 866.93 L299.38 871.34 L300.64 875.70 L301.89 880.01 L303.15 884.28 L304.40 888.49 L305.66 892.66 L306.91 896.78 L308.17 900.86 L309.42 904.89 L310.68 908.87 L311.93 912.81 L313.19 916.71 L314.44 920.56 L315.70 924.36 L316.96 928.12 L318.21 931.84 L319.47 935.52 L320.72 939.16 L321.98 942.75 L323.23 946.30 L324.49 949.81 L325.74 953.28 L327.00 956.71 L328.25 960.11 L329.51 963.46 L330.76 966.77 L332.02 970.05 L333.27 973.28 L334.53 976.48 L335.78 979.64 L337.04 982.77 L338.29 985.86 L339.55 988.91 L340.80 991.93 L342.06 994.91 L343.31 997.86 L344.57 1000.77 L345.82 1003.65 L347.08 1006.50 L348.34 1009.31 L349.59 1012.09 L350.85 1014.84 L352.10 1017.55 L353.36 1020.23 L354.61 1022.89 L355.87 1025.51 L357.12 1028.10 L358.38 1030.66 L359.63 1033.18 L360.89 1035.68 L362.14 1038.15 L363.40 1040.58 L364.65 1042.99 L365.91 1045.37 L367.16 1047.71 L368.42 1050.03 L369.67 1052.32 L370.93 1054.58 L372.18 1056.81 L373.44 1059.01 L374.69 1061.18 L375.95 1063.33 L377.20 1065.45 L378.46 1067.54 L379.72 1069.60 L380.97 1071.63 L382.23 1073.64 L383.48 1075.62 L384.74 1077.58 L385.99 1079.50 L387.25 1081.41 L388.50 1083.28 L389.76 1085.13 L391.01 1086.96 L392.27 1088.75 L393.52 1090.53 L394.78 1092.28 L396.03 1094.00 L397.29 1095.70 L398.54 1097.38 L399.80 1099.03 L401.05 1100.66 L402.31 1102.27 L403.56 1103.85 L404.82 1105.41 L406.07 1106.95 L407.33 1108.46 L408.58 1109.95 L409.84 1111.42 L411.10 1112.87 L412.35 1114.30 L413.61 1115.71 L414.86 1117.10 L416.12 1118.47 L417.37 1119.82 L418.63 1121.15 L419.88 1122.46 L421.14 1123.76 L422.39 1125.04 L423.65 1126.30 L424.90 1127.54 L426.16 1128.76 L427.41 1129.97 L428.67 1131.16 L429.92 1132.34 L431.18 1133.49 L432.43 1134.64 L433.69 1135.76 L434.94 1136.87 L436.20 1137.97 L437.45 1139.05 L438.71 1140.11 L439.96 1141.16 L441.22 1142.20 L442.48 1143.22 L443.73 1144.22 L444.99 1145.22 L446.24 1146.20 L447.50 1147.16 L448.75 1148.11 L450.01 1149.05 L451.26 1149.98 L452.52 1150.89 L453.77 1151.79 L455.03 1152.68 L456.28 1153.55 L457.54 1154.42 L458.79 1155.27 L460.05 1156.11 L461.30 1156.94 L462.56 1157.75 L463.81 1158.56 L465.07 1159.35 L466.32 1160.13 L467.58 1160.91 L468.83 1161.67 L470.09 1162.42 L471.34 1163.16 L472.60 1163.89 L473.86 1164.61 L475.11 1165.32 L476.37 1166.02 L477.62 1166.71 L478.88 1167.39 L480.13 1168.06 L481.39 1168.73 L482.64 1169.38 L483.90 1170.03 L485.15 1170.66 L486.41 1171.29 L487.66 1171.91 L488.92 1172.52 L490.17 1173.12 L491.43 1173.71 L492.68 1174.30 L493.94 1174.87 L495.19 1175.44 L496.45 1176.00 L497.70 1176.56 L498.96 1177.10 L500.21 1177.64 L501.47 1178.17 L502.72 1178.70 L503.98 1179.21 L505.24 1179.72 L506.49 1180.23 L507.75 1180.72 L509.00 1181.21 L510.26 1181.69 L511.51 1182.17 L512.77 1182.64 L514.02 1183.10 L515.28 1183.56 L516.53 1184.01 L517.79 1184.45 L519.04 1184.89 L520.30 1185.32 L521.55 1185.75 L522.81 1186.17 L524.06 1186.58 L525.32 1186.99 L526.57 1187.40 L527.83 1187.79 L529.08 1188.19 L530.34 1188.57 L531.59 1188.95 L532.85 1189.33 L534.10 1189.70 L535.36 1190.07 L536.62 1190.43 L537.87 1190.79 L539.13 1191.14 L540.38 1191.49 L541.64 1191.83 L542.89 1192.17 L544.15 1192.50 L545.40 1192.83 L546.66 1193.16 L547.91 1193.48 L549.17 1193.79 L550.42 1194.11 L551.68 1194.41 L552.93 1194.72 L554.19 1195.01 L555.44 1195.31 L556.70 1195.60 L557.95 1195.89 L559.21 1196.17 L560.46 1196.45 L561.72 1196.72 L562.97 1196.99 L564.23 1197.26 L565.48 1197.52 L566.74 1197.78 L568.00 1198.03 L569.25 1198.28 L570.51 1198.53 L571.76 1198.78 L573.02 1199.02 L574.27 1199.25 L575.53 1199.48 L576.78 1199.71 L578.04 1199.94 L579.29 1200.16 L580.55 1200.38 L581.80 1200.60 L583.06 1200.81 L584.31 1201.02 L585.57 1201.22 L586.82 1201.42 L588.08 1201.62 L589.33 1201.82 L590.59 1202.01 L591.84 1202.20 L593.10 1202.39 L594.35 1202.57 L595.61 1202.75 L596.86 1202.93 L598.12 1203.10 L599.38 1203.28 L600.63 1203.44 L601.89 1203.61 L603.14 1203.77 L604.40 1203.93 L605.65 1204.09 L606.91 1204.25 L608.16 1204.40 L609.42 1204.55 L610.67 1204.70 L611.93 1204.84 L613.18 1204.99 L614.44 1205.13 L615.69 1205.27 L616.95 1205.40 L618.20 1205.53 L619.46 1205.67 L620.71 1205.79 L621.97 1205.92 L623.22 1206.05 L624.48 1206.17 L625.73 1206.29 L626.99 1206.41 L628.24 1206.52 L629.50 1206.63 L630.76 1206.75 L632.01 1206.86 L633.27 1206.96 L634.52 1207.07 L635.78 1207.17 L637.03 1207.28 L638.29 1207.38 L639.54 1207.47 L640.80 1207.57 L642.05 1207.67 L643.31 1207.76 L644.56 1207.85 L645.82 1207.94 L647.07 1208.03 L648.33 1208.12 L649.58 1208.20 L650.84 1208.28 L652.09 1208.37 L653.35 1208.45 L654.60 1208.52 L655.86 1208.60 L657.11 1208.68 L658.37 1208.75 L659.62 1208.83 L660.88 1208.90 L662.14 1208.97 L663.39 1209.04 L664.65 1209.11 L665.90 1209.17 L667.16 1209.24 L668.41 1209.30 L669.67 1209.37 L670.92 1209.43 L672.18 1209.49 L673.43 1209.55 L674.69 1209.61 L675.94 1209.67 L677.20 1209.73 L678.45 1209.79 L679.71 1209.85 L680.96 1209.90 L682.22 1209.96 L683.47 1210.01 L684.73 1210.06 L685.98 1210.12 L687.24 1210.17 L688.49 1210.22 L689.75 1210.27 L691.00 1210.32 L692.26 1210.36 L693.52 1210.41 L694.77 1210.46 L696.03 1210.50 L697.28 1210.55 L698.54 1210.59 L699.79 1210.64 L701.05 1210.68 L702.30 1210.72 L703.56 1210.77 L704.81 1210.81 L706.07 1210.85 L707.32 1210.89 L708.58 1210.93 L709.83 1210.97 L711.09 1211.00 L712.34 1211.04 L713.60 1211.08 L714.85 1211.11 L716.11 1211.15 L717.36 1211.19 L718.62 1211.22 L719.87 1211.25 L721.13 1211.29 L722.38 1211.32 L723.64 1211.35 L724.90 1211.39 L726.15 1211.42 L727.41 1211.45 L728.66 1211.48 L729.92 1211.51 L731.17 1211.54 L732.43 1211.57 L733.68 1211.60 L734.94 1211.62 L736.19 1211.65 L737.45 1211.68 L738.70 1211.71 L739.96 1211.73 L741.21 1211.76 L742.47 1211.78 L743.72 1211.81 L744.98 1211.83 L746.23 1211.86 L747.49 1211.88 L748.74 1211.91 L750.00 1211.93 L751.25 1211.95 L752.51 1211.98 L753.76 1212.00 L755.02 1212.02 L756.28 1212.04 L757.53 1212.06 L758.79 1212.08 L760.04 1212.10 L761.30 1212.12 L762.55 1212.14 L763.81 1212.16 L765.06 1212.18 L766.32 1212.20 L767.57 1212.22 L768.83 1212.24 L770.08 1212.26 L771.34 1212.27 L772.59 1212.29 L773.85 1212.31 L775.10 1212.33 L776.36 1212.34 L777.61 1212.36 L778.87 1212.38 L780.12 1212.39 L781.38 1212.41 L782.63 1212.42 L783.89 1212.44 L785.14 1212.45 L786.40 1212.47 L791.67 1212.53 L796.95 1212.58 L802.22 1212.64 L807.50 1212.68 L812.77 1212.73 L818.04 1212.77 L823.32 1212.81 L828.59 1212.85 L833.87 1212.88 L839.14 1212.92 L844.41 1212.95 L849.69 1212.98 L854.96 1213.00 L860.24 1213.03 L865.51 1213.05 L870.78 1213.07 L876.06 1213.10 L881.33 1213.11 L886.61 1213.13 L891.88 1213.15 L897.15 1213.17 L902.43 1213.18 L907.70 1213.19 L912.97 1213.21 L918.25 1213.22 L923.52 1213.23 L928.80 1213.24 L934.07 1213.25 L939.34 1213.26 L944.62 1213.27 L949.89 1213.28 L955.17 1213.29 L960.44 1213.29 L965.71 1213.30 L970.99 1213.31 L976.26 1213.31 L981.54 1213.32 L986.81 1213.32 L992.08 1213.33 L997.36 1213.33 L1002.63 1213.34 L1007.91 1213.34 L1013.18 1213.35 L1018.45 1213.35 L1023.73 1213.35 L1029.00 1213.36 L1034.28 1213.36 L1039.55 1213.36 L1044.82 1213.36 L1050.10 1213.37 L1055.37 1213.37 L1060.65 1213.37 L1065.92 1213.37 L1071.19 1213.37 L1076.47 1213.38 L1081.74 1213.38 L1087.02 1213.38 L1092.29 1213.38 L1097.56 1213.38 L1102.84 1213.38 L1108.11 1213.38 L1113.38 1213.38 L1118.66 1213.39 L1123.93 1213.39 L1129.21 1213.39 L1134.48 1213.39 L1139.75 1213.39 L1145.03 1213.39 L1150.30 1213.39 L1155.58 1213.39 L1160.85 1213.39 L1166.12 1213.39 L1171.40 1213.39 L1176.67 1213.39 L1181.95 1213.39 L1187.22 1213.39 L1192.49 1213.39 L1197.77 1213.39 L1203.04 1213.40 L1208.32 1213.40 L1213.59 1213.40 L1218.86 1213.40 L1224.14 1213.40 L1229.41 1213.40 L1234.69 1213.40 L1239.96 1213.40 L1245.23 1213.40 L1250.51 1213.40 L1255.78 1213.40 L1261.06 1213.40 L1266.33 1213.40 L1271.60 1213.40 L1276.88 1213.40 L1282.15 1213.40 L1287.43 1213.40 L1292.70 1213.40 L1297.97 1213.40 L1303.25 1213.40 L1308.52 1213.40 L1313.79 1213.40 L1319.07 1213.40 L1324.34 1213.40 L1329.62 1213.40 L1334.89 1213.40 L1340.16 1213.40 L1345.44 1213.40 L1350.71 1213.40 L1355.99 1213.40 L1361.26 1213.40 L1366.53 1213.40 L1371.81 1213.40 L1377.08 1213.40 L1382.36 1213.40 L1387.63 1213.40 L1392.90 1213.40 L1398.18 1213.40 L1403.45 1213.40 L1408.73 1213.40 L1414.00 1213.40"/>
<path d="M158.80 43.40 L160.06 53.08 L161.31 62.70 L162.57 72.26 L163.82 81.77 L165.08 91.21 L166.33 100.60 L167.59 109.93 L168.84 119.21 L170.10 128.42 L171.35 137.59 L172.61 146.69 L173.86 155.74 L175.12 164.74 L176.37 173.68 L177.63 182.57 L178.88 191.40 L180.14 200.18 L181.39 208.91 L182.65 217.59 L183.90 226.21 L185.16 234.78 L186.41 243.30 L187.67 251.77 L188.92 260.18 L190.18 268.55 L191.44 276.86 L192.69 285.13 L193.95 293.34 L195.20 301.51 L196.46 309.62 L197.71 317.68 L198.97 325.70 L200.22 333.67 L201.48 341.58 L202.73 349.45 L203.99 357.27 L205.24 365.04 L206.50 372.77 L207.75 380.44 L209.01 388.07 L210.26 395.65 L211.52 403.19 L212.77 410.67 L214.03 418.11 L215.28 425.50 L216.54 432.85 L217.79 440.14 L219.05 447.40 L220.30 454.60 L221.56 461.76 L222.82 468.88 L224.07 475.95 L225.33 482.99 L226.58 490.00 L227.84 496.96 L229.09 503.89 L230.35 510.78 L231.60 517.63 L232.86 524.44 L234.11 531.21 L235.37 537.94 L236.62 544.63 L237.88 551.29 L239.13 557.90 L240.39 564.48 L241.64 571.01 L242.90 577.50 L244.15 583.96 L245.41 590.37 L246.66 596.73 L247.92 603.06 L249.17 609.34 L250.43 615.59 L251.68 621.78 L252.94 627.94 L254.20 634.05 L255.45 640.11 L256.71 646.14 L257.96 652.11 L259.22 658.04 L260.47 663.93 L261.73 669.76 L262.98 675.56 L264.24 681.30 L265.49 687.00 L266.75 692.65 L268.00 698.25 L269.26 703.80 L270.51 709.31 L271.77 714.76 L273.02 720.17 L274.28 725.52 L275.53 730.83 L276.79 736.08 L278.04 741.29 L279.30 746.44 L280.55 751.54 L281.81 756.59 L283.06 761.59 L284.32 766.53 L285.58 771.43 L286.83 776.28 L288.09 781.09 L289.34 785.85 L290.60 790.56 L291.85 795.23 L293.11 799.86 L294.36 804.44 L295.62 808.98 L296.87 813.48 L298.13 817.93 L299.38 822.34 L300.64 826.71 L301.89 831.04 L303.15 835.32 L304.40 839.57 L305.66 843.77 L306.91 847.94 L308.17 852.06 L309.42 856.14 L310.68 860.19 L311.93 864.19 L313.19 868.16 L314.44 872.09 L315.70 875.98 L316.96 879.83 L318.21 883.65 L319.47 887.43 L320.72 891.17 L321.98 894.88 L323.23 898.55 L324.49 902.19 L325.74 905.79 L327.00 909.35 L328.25 912.88 L329.51 916.38 L330.76 919.85 L332.02 923.28 L333.27 926.67 L334.53 930.04 L335.78 933.37 L337.04 936.67 L338.29 939.94 L339.55 943.17 L340.80 946.38 L342.06 949.55 L343.31 952.70 L344.57 955.81 L345.82 958.89 L347.08 961.95 L348.34 964.97 L349.59 967.97 L350.85 970.95 L352.10 973.90 L353.36 976.82 L354.61 979.71 L355.87 982.58 L357.12 985.42 L358.38 988.24 L359.63 991.03 L360.89 993.79 L362.14 996.52 L363.40 999.23 L364.65 1001.90 L365.91 1004.55 L367.16 1007.18 L368.42 1009.77 L369.67 1012.34 L370.93 1014.88 L372.18 1017.39 L373.44 1019.88 L374.69 1022.33 L375.95 1024.76 L377.20 1027.16 L378.46 1029.53 L379.72 1031.88 L380.97 1034.20 L382.23 1036.48 L383.48 1038.74 L384.74 1040.98 L385.99 1043.18 L387.25 1045.36 L388.50 1047.50 L389.76 1049.62 L391.01 1051.72 L392.27 1053.78 L393.52 1055.82 L394.78 1057.83 L396.03 1059.81 L397.29 1061.76 L398.54 1063.69 L399.80 1065.59 L401.05 1067.46 L402.31 1069.31 L403.56 1071.12 L404.82 1072.91 L406.07 1074.68 L407.33 1076.42 L408.58 1078.13 L409.84 1079.81 L411.10 1081.47 L412.35 1083.11 L413.61 1084.73 L414.86 1086.33 L416.12 1087.90 L417.37 1089.46 L418.63 1091.00 L419.88 1092.52 L421.14 1094.01 L422.39 1095.49 L423.65 1096.95 L424.90 1098.39 L426.16 1099.82 L427.41 1101.22 L428.67 1102.61 L429.92 1103.98 L431.18 1105.33 L432.43 1106.67 L433.69 1107.99 L434.94 1109.29 L436.20 1110.57 L437.45 1111.84 L438.71 1113.10 L439.96 1114.33 L441.22 1115.56 L442.48 1116.76 L443.73 1117.96 L444.99 1119.13 L446.24 1120.30 L447.50 1121.45 L448.75 1122.58 L450.01 1123.70 L451.26 1124.81 L452.52 1125.90 L453.77 1126.98 L455.03 1128.04 L456.28 1129.10 L457.54 1130.14 L458.79 1131.17 L460.05 1132.18 L461.30 1133.18 L462.56 1134.17 L463.81 1135.15 L465.07 1136.12 L466.32 1137.07 L467.58 1138.02 L468.83 1138.95 L470.09 1139.87 L471.34 1140.78 L472.60 1141.68 L473.86 1142.57 L475.11 1143.45 L476.37 1144.32 L477.62 1145.18 L478.88 1146.02 L480.13 1146.86 L481.39 1147.69 L482.64 1148.51 L483.90 1149.32 L485.15 1150.12 L486.41 1150.91 L487.66 1151.69 L488.92 1152.46 L490.17 1153.22 L491.43 1153.98 L492.68 1154.72 L493.94 1155.46 L495.19 1156.19 L496.45 1156.91 L497.70 1157.62 L498.96 1158.33 L500.21 1159.03 L501.47 1159.71 L502.72 1160.40 L503.98 1161.07 L505.24 1161.73 L506.49 1162.39 L507.75 1163.04 L509.00 1163.69 L510.26 1164.32 L511.51 1164.95 L512.77 1165.58 L514.02 1166.19 L515.28 1166.80 L516.53 1167.40 L517.79 1168.00 L519.04 1168.59 L520.30 1169.17 L521.55 1169.75 L522.81 1170.32 L524.06 1170.88 L525.32 1171.44 L526.57 1171.99 L527.83 1172.54 L529.08 1173.08 L530.34 1173.61 L531.59 1174.14 L532.85 1174.67 L534.10 1175.18 L535.36 1175.70 L536.62 1176.20 L537.87 1176.70 L539.13 1177.20 L540.38 1177.69 L541.64 1178.18 L542.89 1178.66 L544.15 1179.13 L545.40 1179.60 L546.66 1180.07 L547.91 1180.53 L549.17 1180.98 L550.42 1181.43 L551.68 1181.88 L552.93 1182.32 L554.19 1182.75 L555.44 1183.18 L556.70 1183.61 L557.95 1184.03 L559.21 1184.44 L560.46 1184.85 L561.72 1185.26 L562.97 1185.66 L564.23 1186.06 L565.48 1186.45 L566.74 1186.83 L568.00 1187.22 L569.25 1187.59 L570.51 1187.96 L571.76 1188.33 L573.02 1188.69 L574.27 1189.05 L575.53 1189.41 L576.78 1189.76 L578.04 1190.10 L579.29 1190.44 L580.55 1190.78 L581.80 1191.11 L583.06 1191.44 L584.31 1191.76 L585.57 1192.08 L586.82 1192.39 L588.08 1192.70 L589.33 1193.01 L590.59 1193.31 L591.84 1193.61 L593.10 1193.90 L594.35 1194.19 L595.61 1194.47 L596.86 1194.76 L598.12 1195.03 L599.38 1195.31 L600.63 1195.58 L601.89 1195.84 L603.14 1196.10 L604.40 1196.36 L605.65 1196.62 L606.91 1196.87 L608.16 1197.12 L609.42 1197.36 L610.67 1197.60 L611.93 1197.84 L613.18 1198.07 L614.44 1198.30 L615.69 1198.53 L616.95 1198.75 L618.20 1198.97 L619.46 1199.18 L620.71 1199.40 L621.97 1199.61 L623.22 1199.81 L624.48 1200.02 L625.73 1200.22 L626.99 1200.41 L628.24 1200.61 L629.50 1200.80 L630.76 1200.99 L632.01 1201.17 L633.27 1201.35 L634.52 1201.53 L635.78 1201.71 L637.03 1201.88 L638.29 1202.05 L639.54 1202.22 L640.80 1202.39 L642.05 1202.55 L643.31 1202.71 L644.56 1202.87 L645.82 1203.02 L647.07 1203.17 L648.33 1203.32 L649.58 1203.47 L650.84 1203.61 L652.09 1203.76 L653.35 1203.90 L654.60 1204.03 L655.86 1204.17 L657.11 1204.30 L658.37 1204.43 L659.62 1204.56 L660.88 1204.69 L662.14 1204.81 L663.39 1204.93 L664.65 1205.06 L665.90 1205.17 L667.16 1205.29 L668.41 1205.41 L669.67 1205.52 L670.92 1205.64 L672.18 1205.75 L673.43 1205.86 L674.69 1205.96 L675.94 1206.07 L677.20 1206.18 L678.45 1206.28 L679.71 1206.38 L680.96 1206.48 L682.22 1206.58 L683.47 1206.68 L684.73 1206.78 L685.98 1206.87 L687.24 1206.96 L688.49 1207.06 L689.75 1207.15 L691.00 1207.24 L692.26 1207.33 L693.52 1207.41 L694.77 1207.50 L696.03 1207.59 L697.28 1207.67 L698.54 1207.75 L699.79 1207.83 L701.05 1207.91 L702.30 1207.99 L703.56 1208.07 L704.81 1208.15 L706.07 1208.22 L707.32 1208.30 L708.58 1208.37 L709.83 1208.44 L711.09 1208.52 L712.34 1208.59 L713.60 1208.66 L714.85 1208.72 L716.11 1208.79 L717.36 1208.86 L718.62 1208.92 L719.87 1208.99 L721.13 1209.05 L722.38 1209.11 L723.64 1209.18 L724.90 1209.24 L726.15 1209.30 L727.41 1209.36 L728.66 1209.42 L729.92 1209.47 L731.17 1209.53 L732.43 1209.59 L733.68 1209.64 L734.94 1209.70 L736.19 1209.75 L737.45 1209.80 L738.70 1209.85 L739.96 1209.91 L741.21 1209.96 L742.47 1210.01 L743.72 1210.06 L744.98 1210.10 L746.23 1210.15 L747.49 1210.20 L748.74 1210.25 L750.00 1210.29 L751.25 1210.34 L752.51 1210.38 L753.76 1210.42 L755.02 1210.47 L756.28 1210.51 L757.53 1210.55 L758.79 1210.59 L760.04 1210.63 L761.30 1210.67 L762.55 1210.71 L763.81 1210.75 L765.06 1210.79 L766.32 1210.83 L767.57 1210.87 L768.83 1210.90 L770.08 1210.94 L771.34 1210.97 L772.59 1211.01 L773.85 1211.04 L775.10 1211.08 L776.36 1211.11 L777.61 1211.15 L778.87 1211.18 L780.12 1211.21 L781.38 1211.24 L782.63 1211.27 L783.89 1211.30 L785.14 1211.33 L786.40 1211.36 L791.67 1211.49 L796.95 1211.60 L802.22 1211.71 L807.50 1211.81 L812.77 1211.90 L818.04 1211.99 L823.32 1212.07 L828.59 1212.15 L833.87 1212.23 L839.14 1212.30 L844.41 1212.36 L849.69 1212.42 L854.96 1212.48 L860.24 1212.54 L865.51 1212.59 L870.78 1212.63 L876.06 1212.68 L881.33 1212.72 L886.61 1212.76 L891.88 1212.80 L897.15 1212.83 L902.43 1212.87 L907.70 1212.90 L912.97 1212.93 L918.25 1212.95 L923.52 1212.98 L928.80 1213.00 L934.07 1213.03 L939.34 1213.05 L944.62 1213.07 L949.89 1213.09 L955.17 1213.11 L960.44 1213.12 L965.71 1213.14 L970.99 1213.15 L976.26 1213.17 L981.54 1213.18 L986.81 1213.20 L992.08 1213.21 L997.36 1213.22 L1002.63 1213.23 L1007.91 1213.24 L1013.18 1213.25 L1018.45 1213.26 L1023.73 1213.27 L1029.00 1213.27 L1034.28 1213.28 L1039.55 1213.29 L1044.82 1213.29 L1050.10 1213.30 L1055.37 1213.31 L1060.65 1213.31 L1065.92 1213.32 L1071.19 1213.32 L1076.47 1213.33 L1081.74 1213.33 L1087.02 1213.34 L1092.29 1213.34 L1097.56 1213.34 L1102.84 1213.35 L1108.11 1213.35 L1113.38 1213.35 L1118.66 1213.36 L1123.93 1213.36 L1129.21 1213.36 L1134.48 1213.36 L1139.75 1213.36 L1145.03 1213.37 L1150.30 1213.37 L1155.58 1213.37 L1160.85 1213.37 L1166.12 1213.37 L1171.40 1213.38 L1176.67 1213.38 L1181.95 1213.38 L1187.22 1213.38 L1192.49 1213.38 L1197.77 1213.38 L1203.04 1213.38 L1208.32 1213.38 L1213.59 1213.38 L1218.86 1213.39 L1224.14 1213.39 L1229.41 1213.39 L1234.69 1213.39 L1239.96 1213.39 L1245.23 1213.39 L1250.51 1213.39 L1255.78 1213.39 L1261.06 1213.39 L1266.33 1213.39 L1271.60 1213.39 L1276.88 1213.39 L1282.15 1213.39 L1287.43 1213.39 L1292.70 1213.39 L1297.97 1213.39 L1303.25 1213.39 L1308.52 1213.39 L1313.79 1213.40 L1319.07 1213.40 L1324.34 1213.40 L1329.62 1213.40 L1334.89 1213.40 L1340.16 1213.40 L1345.44 1213.40 L1350.71 1213.40 L1355.99 1213.40 L1361.26 1213.40 L1366.53 1213.40 L1371.81 1213.40 L1377.08 1213.40 L1382.36 1213.40 L1387.63 1213.40 L1392.90 1213.40 L1398.18 1213.40 L1403.45 1213.40 L1408.73 1213.40 L1414.00 1213.40"/>
<path d="M158.80 43.40 L160.06 51.85 L161.31 60.25 L162.57 68.59 L163.82 76.88 L165.08 85.11 L166.33 93.30 L167.59 101.43 L168.84 109.51 L170.10 117.55 L171.35 125.53 L172.61 133.47 L173.86 141.37 L175.12 149.21 L176.37 157.02 L177.63 164.78 L178.88 172.50 L180.14 180.17 L181.39 187.81 L182.65 195.40 L183.90 202.95 L185.16 210.46 L186.41 217.94 L187.67 225.37 L188.92 232.77 L190.18 240.12 L191.44 247.44 L192.69 254.72 L193.95 261.97 L195.20 269.18 L196.46 276.35 L197.71 283.48 L198.97 290.58 L200.22 297.64 L201.48 304.67 L202.73 311.66 L203.99 318.62 L205.24 325.54 L206.50 332.42 L207.75 339.27 L209.01 346.08 L210.26 352.86 L211.52 359.61 L212.77 366.32 L214.03 372.99 L215.28 379.63 L216.54 386.23 L217.79 392.79 L219.05 399.33 L220.30 405.82 L221.56 412.28 L222.82 418.72 L224.07 425.15 L225.33 431.56 L226.58 437.97 L227.84 444.37 L229.09 450.76 L230.35 457.13 L231.60 463.50 L232.86 469.85 L234.11 476.20 L235.37 482.53 L236.62 488.84 L237.88 495.14 L239.13 501.43 L240.39 507.70 L241.64 513.95 L242.90 520.19 L244.15 526.41 L245.41 532.60 L246.66 538.78 L247.92 544.93 L249.17 551.07 L250.43 557.17 L251.68 563.26 L252.94 569.31 L254.20 575.34 L255.45 581.34 L256.71 587.30 L257.96 593.24 L259.22 599.14 L260.47 605.01 L261.73 610.85 L262.98 616.64 L264.24 622.40 L265.49 628.12 L266.75 633.80 L268.00 639.44 L269.26 645.03 L270.51 650.58 L271.77 656.08 L273.02 661.53 L274.28 666.94 L275.53 672.30 L276.79 677.60 L278.04 682.86 L279.30 688.06 L280.55 693.20 L281.81 698.29 L283.06 703.32 L284.32 708.30 L285.58 713.22 L286.83 718.11 L288.09 722.95 L289.34 727.76 L290.60 732.53 L291.85 737.26 L293.11 741.95 L294.36 746.60 L295.62 751.21 L296.87 755.78 L298.13 760.32 L299.38 764.82 L300.64 769.28 L301.89 773.70 L303.15 778.09 L304.40 782.44 L305.66 786.75 L306.91 791.03 L308.17 795.27 L309.42 799.47 L310.68 803.64 L311.93 807.77 L313.19 811.87 L314.44 815.93 L315.70 819.96 L316.96 823.95 L318.21 827.91 L319.47 831.84 L320.72 835.73 L321.98 839.59 L323.23 843.41 L324.49 847.20 L325.74 850.96 L327.00 854.69 L328.25 858.38 L329.51 862.04 L330.76 865.67 L332.02 869.27 L333.27 872.84 L334.53 876.37 L335.78 879.88 L337.04 883.36 L338.29 886.80 L339.55 890.22 L340.80 893.60 L342.06 896.96 L343.31 900.28 L344.57 903.58 L345.82 906.85 L347.08 910.09 L348.34 913.30 L349.59 916.49 L350.85 919.64 L352.10 922.77 L353.36 925.87 L354.61 928.95 L355.87 931.99 L357.12 935.01 L358.38 938.01 L359.63 940.97 L360.89 943.91 L362.14 946.82 L363.40 949.70 L364.65 952.56 L365.91 955.39 L367.16 958.20 L368.42 960.97 L369.67 963.72 L370.93 966.45 L372.18 969.15 L373.44 971.82 L374.69 974.46 L375.95 977.08 L377.20 979.68 L378.46 982.25 L379.72 984.79 L380.97 987.30 L382.23 989.80 L383.48 992.26 L384.74 994.70 L385.99 997.12 L387.25 999.51 L388.50 1001.87 L389.76 1004.22 L391.01 1006.53 L392.27 1008.82 L393.52 1011.09 L394.78 1013.33 L396.03 1015.55 L397.29 1017.75 L398.54 1019.92 L399.80 1022.07 L401.05 1024.19 L402.31 1026.29 L403.56 1028.37 L404.82 1030.42 L406.07 1032.45 L407.33 1034.46 L408.58 1036.44 L409.84 1038.40 L411.10 1040.35 L412.35 1042.27 L413.61 1044.17 L414.86 1046.05 L416.12 1047.91 L417.37 1049.76 L418.63 1051.58 L419.88 1053.39 L421.14 1055.18 L422.39 1056.95 L423.65 1058.70 L424.90 1060.43 L426.16 1062.14 L427.41 1063.84 L428.67 1065.52 L429.92 1067.18 L431.18 1068.83 L432.43 1070.46 L433.69 1072.07 L434.94 1073.66 L436.20 1075.24 L437.45 1076.80 L438.71 1078.34 L439.96 1079.87 L441.22 1081.38 L442.48 1082.87 L443.73 1084.35 L444.99 1085.82 L446.24 1087.26 L447.50 1088.70 L448.75 1090.11 L450.01 1091.52 L451.26 1092.90 L452.52 1094.28 L453.77 1095.63 L455.03 1096.98 L456.28 1098.31 L457.54 1099.62 L458.79 1100.92 L460.05 1102.21 L461.30 1103.48 L462.56 1104.74 L463.81 1105.98 L465.07 1107.21 L466.32 1108.43 L467.58 1109.63 L468.83 1110.82 L470.09 1112.00 L471.34 1113.17 L472.60 1114.32 L473.86 1115.46 L475.11 1116.59 L476.37 1117.70 L477.62 1118.80 L478.88 1119.89 L480.13 1120.97 L481.39 1122.04 L482.64 1123.09 L483.90 1124.13 L485.15 1125.17 L486.41 1126.18 L487.66 1127.19 L488.92 1128.19 L490.17 1129.18 L491.43 1130.15 L492.68 1131.11 L493.94 1132.07 L495.19 1133.01 L496.45 1133.94 L497.70 1134.86 L498.96 1135.77 L500.21 1136.68 L501.47 1137.57 L502.72 1138.45 L503.98 1139.32 L505.24 1140.18 L506.49 1141.03 L507.75 1141.87 L509.00 1142.70 L510.26 1143.52 L511.51 1144.34 L512.77 1145.14 L514.02 1145.93 L515.28 1146.72 L516.53 1147.50 L517.79 1148.26 L519.04 1149.02 L520.30 1149.77 L521.55 1150.51 L522.81 1151.25 L524.06 1151.97 L525.32 1152.69 L526.57 1153.40 L527.83 1154.10 L529.08 1154.79 L530.34 1155.47 L531.59 1156.15 L532.85 1156.82 L534.10 1157.48 L535.36 1158.13 L536.62 1158.77 L537.87 1159.41 L539.13 1160.04 L540.38 1160.67 L541.64 1161.28 L542.89 1161.89 L544.15 1162.50 L545.40 1163.09 L546.66 1163.68 L547.91 1164.27 L549.17 1164.84 L550.42 1165.42 L551.68 1165.98 L552.93 1166.54 L554.19 1167.09 L555.44 1167.63 L556.70 1168.17 L557.95 1168.70 L559.21 1169.23 L560.46 1169.75 L561.72 1170.27 L562.97 1170.78 L564.23 1171.28 L565.48 1171.78 L566.74 1172.27 L568.00 1172.75 L569.25 1173.23 L570.51 1173.71 L571.76 1174.18 L573.02 1174.64 L574.27 1175.10 L575.53 1175.56 L576.78 1176.00 L578.04 1176.45 L579.29 1176.88 L580.55 1177.32 L581.80 1177.74 L583.06 1178.17 L584.31 1178.59 L585.57 1179.00 L586.82 1179.41 L588.08 1179.81 L589.33 1180.21 L590.59 1180.60 L591.84 1180.99 L593.10 1181.38 L594.35 1181.76 L595.61 1182.13 L596.86 1182.50 L598.12 1182.87 L599.38 1183.23 L600.63 1183.59 L601.89 1183.94 L603.14 1184.29 L604.40 1184.64 L605.65 1184.98 L606.91 1185.32 L608.16 1185.65 L609.42 1185.98 L610.67 1186.31 L611.93 1186.63 L613.18 1186.95 L614.44 1187.26 L615.69 1187.57 L616.95 1187.88 L618.20 1188.18 L619.46 1188.48 L620.71 1188.77 L621.97 1189.07 L623.22 1189.35 L624.48 1189.64 L625.73 1189.92 L626.99 1190.20 L628.24 1190.47 L629.50 1190.74 L630.76 1191.01 L632.01 1191.28 L633.27 1191.54 L634.52 1191.80 L635.78 1192.05 L637.03 1192.30 L638.29 1192.55 L639.54 1192.80 L640.80 1193.04 L642.05 1193.28 L643.31 1193.52 L644.56 1193.75 L645.82 1193.98 L647.07 1194.21 L648.33 1194.44 L649.58 1194.66 L650.84 1194.88 L652.09 1195.10 L653.35 1195.31 L654.60 1195.52 L655.86 1195.73 L657.11 1195.94 L658.37 1196.14 L659.62 1196.34 L660.88 1196.54 L662.14 1196.74 L663.39 1196.93 L664.65 1197.13 L665.90 1197.32 L667.16 1197.50 L668.41 1197.69 L669.67 1197.87 L670.92 1198.05 L672.18 1198.23 L673.43 1198.41 L674.69 1198.59 L675.94 1198.76 L677.20 1198.93 L678.45 1199.10 L679.71 1199.27 L680.96 1199.43 L682.22 1199.60 L683.47 1199.76 L684.73 1199.92 L685.98 1200.08 L687.24 1200.23 L688.49 1200.39 L689.75 1200.54 L691.00 1200.69 L692.26 1200.84 L693.52 1200.99 L694.77 1201.13 L696.03 1201.28 L697.28 1201.42 L698.54 1201.56 L699.79 1201.70 L701.05 1201.84 L702.30 1201.97 L703.56 1202.11 L704.81 1202.24 L706.07 1202.37 L707.32 1202.50 L708.58 1202.63 L709.83 1202.75 L711.09 1202.88 L712.34 1203.00 L713.60 1203.12 L714.85 1203.25 L716.11 1203.37 L717.36 1203.48 L718.62 1203.60 L719.87 1203.72 L721.13 1203.83 L722.38 1203.94 L723.64 1204.05 L724.90 1204.16 L726.15 1204.27 L727.41 1204.38 L728.66 1204.49 L729.92 1204.59 L731.17 1204.69 L732.43 1204.80 L733.68 1204.90 L734.94 1205.00 L736.19 1205.10 L737.45 1205.20 L738.70 1205.29 L739.96 1205.39 L741.21 1205.48 L742.47 1205.58 L743.72 1205.67 L744.98 1205.76 L746.23 1205.85 L747.49 1205.94 L748.74 1206.03 L750.00 1206.11 L751.25 1206.20 L752.51 1206.28 L753.76 1206.37 L755.02 1206.45 L756.28 1206.53 L757.53 1206.61 L758.79 1206.69 L760.04 1206.77 L761.30 1206.85 L762.55 1206.93 L763.81 1207.00 L765.06 1207.08 L766.32 1207.15 L767.57 1207.23 L768.83 1207.30 L770.08 1207.37 L771.34 1207.44 L772.59 1207.51 L773.85 1207.58 L775.10 1207.65 L776.36 1207.72 L777.61 1207.79 L778.87 1207.85 L780.12 1207.92 L781.38 1207.98 L782.63 1208.05 L783.89 1208.11 L785.14 1208.17 L786.40 1208.23 L791.67 1208.49 L796.95 1208.72 L802.22 1208.95 L807.50 1209.17 L812.77 1209.37 L818.04 1209.57 L823.32 1209.75 L828.59 1209.93 L833.87 1210.10 L839.14 1210.26 L844.41 1210.41 L849.69 1210.56 L854.96 1210.69 L860.24 1210.82 L865.51 1210.95 L870.78 1211.07 L876.06 1211.18 L881.33 1211.29 L886.61 1211.39 L891.88 1211.48 L897.15 1211.57 L902.43 1211.66 L907.70 1211.75 L912.97 1211.82 L918.25 1211.90 L923.52 1211.97 L928.80 1212.04 L934.07 1212.10 L939.34 1212.17 L944.62 1212.22 L949.89 1212.28 L955.17 1212.33 L960.44 1212.38 L965.71 1212.43 L970.99 1212.48 L976.26 1212.52 L981.54 1212.57 L986.81 1212.61 L992.08 1212.64 L997.36 1212.68 L1002.63 1212.71 L1007.91 1212.75 L1013.18 1212.78 L1018.45 1212.81 L1023.73 1212.84 L1029.00 1212.86 L1034.28 1212.89 L1039.55 1212.91 L1044.82 1212.94 L1050.10 1212.96 L1055.37 1212.98 L1060.65 1213.00 L1065.92 1213.02 L1071.19 1213.04 L1076.47 1213.06 L1081.74 1213.07 L1087.02 1213.09 L1092.29 1213.10 L1097.56 1213.12 L1102.84 1213.13 L1108.11 1213.14 L1113.38 1213.16 L1118.66 1213.17 L1123.93 1213.18 L1129.21 1213.19 L1134.48 1213.20 L1139.75 1213.21 L1145.03 1213.22 L1150.30 1213.23 L1155.58 1213.24 L1160.85 1213.24 L1166.12 1213.25 L1171.40 1213.26 L1176.67 1213.27 L1181.95 1213.27 L1187.22 1213.28 L1192.49 1213.28 L1197.77 1213.29 L1203.04 1213.29 L1208.32 1213.30 L1213.59 1213.30 L1218.86 1213.31 L1224.14 1213.31 L1229.41 1213.32 L1234.69 1213.32 L1239.96 1213.33 L1245.23 1213.33 L1250.51 1213.33 L1255.78 1213.34 L1261.06 1213.34 L1266.33 1213.34 L1271.60 1213.34 L1276.88 1213.35 L1282.15 1213.35 L1287.43 1213.35 L1292.70 1213.35 L1297.97 1213.36 L1303.25 1213.36 L1308.52 1213.36 L1313.79 1213.36 L1319.07 1213.36 L1324.34 1213.37 L1329.62 1213.37 L1334.89 1213.37 L1340.16 1213.37 L1345.44 1213.37 L1350.71 1213.37 L1355.99 1213.37 L1361.26 1213.38 L1366.53 1213.38 L1371.81 1213.38 L1377.08 1213.38 L1382.36 1213.38 L1387.63 1213.38 L1392.90 1213.38 L1398.18 1213.38 L1403.45 1213.38 L1408.73 1213.38 L1414.00 1213.38"/>
</g>
<g fill="#000" stroke="none" shape-rendering="crispEdges"><polygon points="340.8,1057.0 346.0,1064.0 574.6,898.9 569.4,891.7"/><polygon points="591.3,877 595.1,877 595.1,880.3 574.7,910.1 573,910.1 573,899.1 565.1,893 557.5,892.6 553.9,892 553.9,889.2"/></g>
<rect x="683.4" y="70.2" width="1050.9" height="191.1" fill="#fff" stroke="#262626" stroke-width="8.8"/>
<rect x="695" y="122.9" width="120.4" height="9.05" fill="#ff0000"/>
<rect x="695" y="215" width="25.0" height="6.9" fill="#000"/>
<rect x="743" y="215" width="25.0" height="6.9" fill="#000"/>
<rect x="790.7" y="215" width="24.7" height="6.9" fill="#000"/>
<text font-size="68.5" fill="#000" transform="translate(821.56,136.50) scale(1.1598,1)">SiC-TiO</text>
<text font-size="52.7" fill="#000" transform="translate(1098.74,167.50) scale(1.1480,1)">2</text>
<text font-size="68.5" fill="#000" transform="translate(1149.58,136.50) scale(1.1610,1)">Hybrid nanofluid</text>
<text font-size="68.5" fill="#000" transform="translate(821.57,241.90) scale(1.1584,1)">SiC nanofluid</text>
<rect x="696.5" y="419.3" width="937.5" height="126.2" fill="#fff" stroke="#000" stroke-width="8.8"/>
<text font-size="68" fill="#000" transform="translate(719.35,488.50) skewX(-16) scale(1.2304,1)">ϕ</text>
<text font-size="52.3" fill="#000" transform="translate(770.39,519.70) scale(1.3138,1)">1</text>
<text style="font-style:normal" font-size="54.8" fill="#000" transform="translate(799.45,484.90) scale(1.6959,1)">=</text>
<text font-size="68" fill="#000" transform="translate(852.94,488.50) skewX(-16) scale(1.2389,1)">ϕ</text>
<text font-size="52.3" fill="#000" transform="translate(904.98,519.60) scale(1.2232,1)">2</text>
<text style="font-style:normal" font-size="54.8" fill="#000" transform="translate(933.46,484.90) scale(1.6920,1)">=</text>
<text font-size="67.5" fill="#000" transform="translate(982.94,488.90) scale(1.1784,1)">0.01,0.02,0.03,0.04</text>
</svg></body></html>
